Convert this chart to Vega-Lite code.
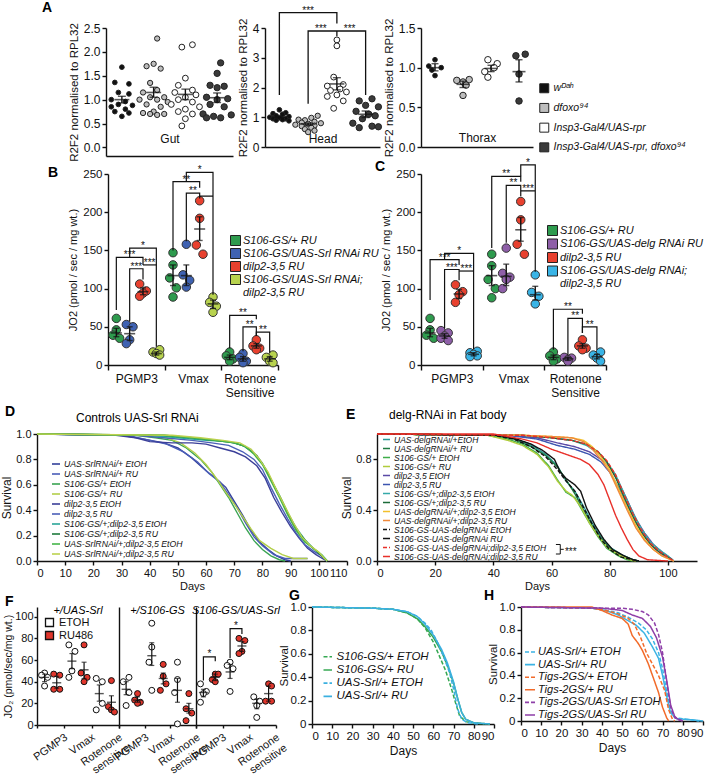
{
"$schema": "https://vega.github.io/schema/vega-lite/v6.json",
"background": "white",
"padding": {"left": 0, "top": 1, "right": 0, "bottom": 0},
"config": {
  "font": "Liberation Sans",
  "view": {"stroke": null},
  "axis": {"grid": false, "labelOverlap": false, "domainColor": "#111", "tickColor": "#111", "labelColor": "#111", "titleColor": "#111", "labelFontSize": 11, "titleFontSize": 11, "titleFontWeight": "normal", "domainWidth": 1.4, "tickWidth": 1.4, "tickSize": 4, "labelPadding": 2, "titlePadding": 4},
  "title": {"fontSize": 14, "fontWeight": "bold", "anchor": "start", "color": "#000", "frame": "group"},
  "legend": {"labelColor": "#111", "padding": 0, "labelLimit": 400}
},
"datasets": {
"A": [
{"t":"Gut","g":1,"s":4,"v":1.68},{"t":"Gut","g":1,"s":2,"v":1.36},{"t":"Gut","g":1,"s":6,"v":1.33},{"t":"Gut","g":1,"s":3,"v":1.15},{"t":"Gut","g":1,"s":6,"v":1.12},{"t":"Gut","g":1,"s":1,"v":1.0},{"t":"Gut","g":1,"s":5,"v":0.96},{"t":"Gut","g":1,"s":3,"v":0.9},{"t":"Gut","g":1,"s":7,"v":0.88},{"t":"Gut","g":1,"s":1,"v":0.85},{"t":"Gut","g":1,"s":5,"v":0.8},{"t":"Gut","g":1,"s":2,"v":0.75},{"t":"Gut","g":1,"s":6,"v":0.72},{"t":"Gut","g":1,"s":4,"v":0.65},
{"t":"Gut","g":2,"s":5,"v":2.28},{"t":"Gut","g":2,"s":4,"v":1.75},{"t":"Gut","g":2,"s":2,"v":1.7},{"t":"Gut","g":2,"s":6,"v":1.65},{"t":"Gut","g":2,"s":3,"v":1.35},{"t":"Gut","g":2,"s":5,"v":1.2},{"t":"Gut","g":2,"s":1,"v":1.15},{"t":"Gut","g":2,"s":3,"v":1.05},{"t":"Gut","g":2,"s":7,"v":1.05},{"t":"Gut","g":2,"s":0,"v":1.0},{"t":"Gut","g":2,"s":5,"v":1.0},{"t":"Gut","g":2,"s":8,"v":0.95},{"t":"Gut","g":2,"s":2,"v":0.9},{"t":"Gut","g":2,"s":6,"v":0.85},{"t":"Gut","g":2,"s":4,"v":0.75},{"t":"Gut","g":2,"s":1,"v":0.72},{"t":"Gut","g":2,"s":7,"v":0.7},{"t":"Gut","g":2,"s":3,"v":0.7},{"t":"Gut","g":2,"s":5,"v":0.68},
{"t":"Gut","g":3,"s":3,"v":2.1},{"t":"Gut","g":3,"s":6,"v":2.15},{"t":"Gut","g":3,"s":4,"v":1.45},{"t":"Gut","g":3,"s":2,"v":1.3},{"t":"Gut","g":3,"s":6,"v":1.2},{"t":"Gut","g":3,"s":1,"v":1.15},{"t":"Gut","g":3,"s":7,"v":1.1},{"t":"Gut","g":3,"s":4,"v":1.05},{"t":"Gut","g":3,"s":2,"v":1.0},{"t":"Gut","g":3,"s":6,"v":0.95},{"t":"Gut","g":3,"s":0,"v":0.9},{"t":"Gut","g":3,"s":8,"v":0.85},{"t":"Gut","g":3,"s":4,"v":0.8},{"t":"Gut","g":3,"s":2,"v":0.75},{"t":"Gut","g":3,"s":6,"v":0.7},{"t":"Gut","g":3,"s":4,"v":0.6},{"t":"Gut","g":3,"s":3,"v":0.45},
{"t":"Gut","g":4,"s":5,"v":1.77},{"t":"Gut","g":4,"s":4,"v":1.55},{"t":"Gut","g":4,"s":2,"v":1.3},{"t":"Gut","g":4,"s":6,"v":1.28},{"t":"Gut","g":4,"s":4,"v":1.25},{"t":"Gut","g":4,"s":1,"v":1.05},{"t":"Gut","g":4,"s":7,"v":1.02},{"t":"Gut","g":4,"s":4,"v":1.0},{"t":"Gut","g":4,"s":2,"v":0.9},{"t":"Gut","g":4,"s":6,"v":0.85},{"t":"Gut","g":4,"s":0,"v":0.7},{"t":"Gut","g":4,"s":8,"v":0.68},{"t":"Gut","g":4,"s":3,"v":0.65},{"t":"Gut","g":4,"s":5,"v":0.62},{"t":"Gut","g":4,"s":1,"v":0.62},
{"t":"Head","g":1,"s":4,"v":1.25},{"t":"Head","g":1,"s":6,"v":1.15},{"t":"Head","g":1,"s":2,"v":1.12},{"t":"Head","g":1,"s":5,"v":1.1},{"t":"Head","g":1,"s":3,"v":1.05},{"t":"Head","g":1,"s":7,"v":1.02},{"t":"Head","g":1,"s":1,"v":1.0},{"t":"Head","g":1,"s":4,"v":0.98},{"t":"Head","g":1,"s":6,"v":0.95},{"t":"Head","g":1,"s":2,"v":0.95},{"t":"Head","g":1,"s":5,"v":0.92},{"t":"Head","g":1,"s":3,"v":0.9},{"t":"Head","g":1,"s":7,"v":0.88},
{"t":"Head","g":2,"s":7,"v":1.05},{"t":"Head","g":2,"s":5,"v":0.98},{"t":"Head","g":2,"s":1,"v":0.92},{"t":"Head","g":2,"s":3,"v":0.9},{"t":"Head","g":2,"s":6,"v":0.85},{"t":"Head","g":2,"s":2,"v":0.82},{"t":"Head","g":2,"s":8,"v":0.8},{"t":"Head","g":2,"s":4,"v":0.78},{"t":"Head","g":2,"s":0,"v":0.75},{"t":"Head","g":2,"s":6,"v":0.72},{"t":"Head","g":2,"s":2,"v":0.7},{"t":"Head","g":2,"s":5,"v":0.65},{"t":"Head","g":2,"s":3,"v":0.6},{"t":"Head","g":2,"s":6,"v":0.55},{"t":"Head","g":2,"s":4,"v":0.5},
{"t":"Head","g":3,"s":4,"v":3.6},{"t":"Head","g":3,"s":4,"v":3.4},{"t":"Head","g":3,"s":3,"v":2.35},{"t":"Head","g":3,"s":6,"v":2.1},{"t":"Head","g":3,"s":1,"v":2.05},{"t":"Head","g":3,"s":5,"v":1.95},{"t":"Head","g":3,"s":2,"v":1.9},{"t":"Head","g":3,"s":7,"v":1.85},{"t":"Head","g":3,"s":4,"v":1.75},{"t":"Head","g":3,"s":1,"v":1.7},{"t":"Head","g":3,"s":6,"v":1.55},{"t":"Head","g":3,"s":3,"v":1.3},
{"t":"Head","g":4,"s":6,"v":1.62},{"t":"Head","g":4,"s":2,"v":1.55},{"t":"Head","g":4,"s":4,"v":1.4},{"t":"Head","g":4,"s":8,"v":1.35},{"t":"Head","g":4,"s":1,"v":1.2},{"t":"Head","g":4,"s":5,"v":1.1},{"t":"Head","g":4,"s":7,"v":1.05},{"t":"Head","g":4,"s":3,"v":0.95},{"t":"Head","g":4,"s":0,"v":0.8},{"t":"Head","g":4,"s":6,"v":0.7},{"t":"Head","g":4,"s":8,"v":0.68},{"t":"Head","g":4,"s":2,"v":0.65},
{"t":"Tho","g":1,"s":4,"v":1.1},{"t":"Tho","g":1,"s":2,"v":1.02},{"t":"Tho","g":1,"s":6,"v":1.0},{"t":"Tho","g":1,"s":3,"v":0.97},{"t":"Tho","g":1,"s":4,"v":0.9},
{"t":"Tho","g":2,"s":6,"v":0.85},{"t":"Tho","g":2,"s":2,"v":0.84},{"t":"Tho","g":2,"s":4,"v":0.82},{"t":"Tho","g":2,"s":5,"v":0.78},{"t":"Tho","g":2,"s":4,"v":0.65},
{"t":"Tho","g":3,"s":3,"v":1.1},{"t":"Tho","g":3,"s":6,"v":1.05},{"t":"Tho","g":3,"s":5,"v":1.0},{"t":"Tho","g":3,"s":2,"v":0.95},{"t":"Tho","g":3,"s":3,"v":0.88},
{"t":"Tho","g":4,"s":6,"v":1.17},{"t":"Tho","g":4,"s":3,"v":1.15},{"t":"Tho","g":4,"s":4,"v":0.92},{"t":"Tho","g":4,"s":4,"v":0.58}
],
"As": [
{"t":"Gut","g":1,"s":4,"m":1.0,"lo":0.93,"hi":1.07},{"t":"Gut","g":2,"s":4,"m":1.15,"lo":1.05,"hi":1.26},{"t":"Gut","g":3,"s":4,"m":1.11,"lo":1.0,"hi":1.22},{"t":"Gut","g":4,"s":4,"m":1.04,"lo":0.94,"hi":1.14},
{"t":"Head","g":1,"s":4,"m":1.0,"lo":0.97,"hi":1.03},{"t":"Head","g":2,"s":4,"m":0.77,"lo":0.73,"hi":0.81},{"t":"Head","g":3,"s":4,"m":2.12,"lo":1.92,"hi":2.33},{"t":"Head","g":4,"s":4,"m":1.1,"lo":0.99,"hi":1.21},
{"t":"Tho","g":1,"s":4,"m":1.0,"lo":0.96,"hi":1.05},{"t":"Tho","g":2,"s":4,"m":0.79,"lo":0.75,"hi":0.83},{"t":"Tho","g":3,"s":4,"m":0.99,"lo":0.95,"hi":1.03},{"t":"Tho","g":4,"s":4,"m":0.95,"lo":0.82,"hi":1.1}
],
"Ab": [
{"id":"h1","g":1,"s":4,"v":1.75,"k":0},{"id":"h1","g":1,"s":4,"v":4.52,"k":1},{"id":"h1","g":3,"s":4,"v":4.52,"k":2},{"id":"h1","g":3,"s":4,"v":4.15,"k":3},
{"id":"h2","g":2,"s":4,"v":1.45,"k":0},{"id":"h2","g":2,"s":4,"v":3.9,"k":1},{"id":"h2","g":4,"s":4,"v":3.9,"k":2},{"id":"h2","g":4,"s":4,"v":1.75,"k":3},
{"id":"h3","g":3,"s":4,"v":3.9,"k":0},{"id":"h3","g":3,"s":4,"v":3.72,"k":1}
],
"Al": [
{"g":2,"s":4,"v":4.52,"txt":"***"},{"g":2,"s":8,"v":3.9,"txt":"***"},{"g":3,"s":8,"v":3.9,"txt":"***"}
],
"Bd": [
{"p":"B","m":"PGMP3","g":1,"s":2,"v":61},{"p":"B","m":"PGMP3","g":1,"s":2,"v":46},{"p":"B","m":"PGMP3","g":1,"s":1,"v":39},{"p":"B","m":"PGMP3","g":1,"s":3,"v":35},
{"p":"B","m":"PGMP3","g":2,"s":5,"v":53},{"p":"B","m":"PGMP3","g":2,"s":7,"v":50},{"p":"B","m":"PGMP3","g":2,"s":6,"v":33},{"p":"B","m":"PGMP3","g":2,"s":5,"v":28},
{"p":"B","m":"PGMP3","g":3,"s":9,"v":106},{"p":"B","m":"PGMP3","g":3,"s":11,"v":97},{"p":"B","m":"PGMP3","g":3,"s":10,"v":94},{"p":"B","m":"PGMP3","g":3,"s":9,"v":90},
{"p":"B","m":"PGMP3","g":4,"s":15,"v":20},{"p":"B","m":"PGMP3","g":4,"s":13,"v":17},{"p":"B","m":"PGMP3","g":4,"s":14,"v":15},{"p":"B","m":"PGMP3","g":4,"s":15,"v":13},
{"p":"B","m":"Vmax","g":1,"s":2,"v":147},{"p":"B","m":"Vmax","g":1,"s":2,"v":131},{"p":"B","m":"Vmax","g":1,"s":1,"v":114},{"p":"B","m":"Vmax","g":1,"s":3,"v":101},{"p":"B","m":"Vmax","g":1,"s":2,"v":89},
{"p":"B","m":"Vmax","g":2,"s":6,"v":158},{"p":"B","m":"Vmax","g":2,"s":5,"v":118},{"p":"B","m":"Vmax","g":2,"s":7,"v":111},{"p":"B","m":"Vmax","g":2,"s":6,"v":102},
{"p":"B","m":"Vmax","g":3,"s":10,"v":215},{"p":"B","m":"Vmax","g":3,"s":10,"v":192},{"p":"B","m":"Vmax","g":3,"s":9,"v":157},{"p":"B","m":"Vmax","g":3,"s":11,"v":145},
{"p":"B","m":"Vmax","g":4,"s":14,"v":89},{"p":"B","m":"Vmax","g":4,"s":13,"v":82},{"p":"B","m":"Vmax","g":4,"s":15,"v":77},{"p":"B","m":"Vmax","g":4,"s":14,"v":69},
{"p":"B","m":"Rot","g":1,"s":2,"v":17},{"p":"B","m":"Rot","g":1,"s":1,"v":12},{"p":"B","m":"Rot","g":1,"s":3,"v":8},{"p":"B","m":"Rot","g":1,"s":2,"v":5},
{"p":"B","m":"Rot","g":2,"s":6,"v":15},{"p":"B","m":"Rot","g":2,"s":5,"v":10},{"p":"B","m":"Rot","g":2,"s":7,"v":5},{"p":"B","m":"Rot","g":2,"s":6,"v":3},
{"p":"B","m":"Rot","g":3,"s":10,"v":33},{"p":"B","m":"Rot","g":3,"s":9,"v":25},{"p":"B","m":"Rot","g":3,"s":11,"v":22},{"p":"B","m":"Rot","g":3,"s":10,"v":20},
{"p":"B","m":"Rot","g":4,"s":15,"v":13},{"p":"B","m":"Rot","g":4,"s":13,"v":10},{"p":"B","m":"Rot","g":4,"s":14,"v":5},{"p":"B","m":"Rot","g":4,"s":15,"v":3},
{"p":"C","m":"PGMP3","g":1,"s":2,"v":61},{"p":"C","m":"PGMP3","g":1,"s":2,"v":46},{"p":"C","m":"PGMP3","g":1,"s":1,"v":39},{"p":"C","m":"PGMP3","g":1,"s":3,"v":35},
{"p":"C","m":"PGMP3","g":2,"s":5,"v":45},{"p":"C","m":"PGMP3","g":2,"s":7,"v":42},{"p":"C","m":"PGMP3","g":2,"s":6,"v":38},{"p":"C","m":"PGMP3","g":2,"s":5,"v":35},{"p":"C","m":"PGMP3","g":2,"s":7,"v":32},
{"p":"C","m":"PGMP3","g":3,"s":9,"v":105},{"p":"C","m":"PGMP3","g":3,"s":11,"v":96},{"p":"C","m":"PGMP3","g":3,"s":10,"v":92},{"p":"C","m":"PGMP3","g":3,"s":9,"v":82},
{"p":"C","m":"PGMP3","g":4,"s":15,"v":18},{"p":"C","m":"PGMP3","g":4,"s":13,"v":16},{"p":"C","m":"PGMP3","g":4,"s":14,"v":14},{"p":"C","m":"PGMP3","g":4,"s":15,"v":12},{"p":"C","m":"PGMP3","g":4,"s":13,"v":11},
{"p":"C","m":"Vmax","g":1,"s":2,"v":145},{"p":"C","m":"Vmax","g":1,"s":2,"v":130},{"p":"C","m":"Vmax","g":1,"s":1,"v":112},{"p":"C","m":"Vmax","g":1,"s":3,"v":100},{"p":"C","m":"Vmax","g":1,"s":2,"v":88},
{"p":"C","m":"Vmax","g":2,"s":6,"v":153},{"p":"C","m":"Vmax","g":2,"s":5,"v":120},{"p":"C","m":"Vmax","g":2,"s":7,"v":115},{"p":"C","m":"Vmax","g":2,"s":6,"v":112},{"p":"C","m":"Vmax","g":2,"s":5,"v":100},
{"p":"C","m":"Vmax","g":3,"s":10,"v":214},{"p":"C","m":"Vmax","g":3,"s":10,"v":190},{"p":"C","m":"Vmax","g":3,"s":9,"v":158},{"p":"C","m":"Vmax","g":3,"s":11,"v":145},
{"p":"C","m":"Vmax","g":4,"s":14,"v":118},{"p":"C","m":"Vmax","g":4,"s":13,"v":95},{"p":"C","m":"Vmax","g":4,"s":15,"v":90},{"p":"C","m":"Vmax","g":4,"s":14,"v":80},
{"p":"C","m":"Rot","g":1,"s":2,"v":17},{"p":"C","m":"Rot","g":1,"s":1,"v":12},{"p":"C","m":"Rot","g":1,"s":3,"v":8},{"p":"C","m":"Rot","g":1,"s":2,"v":5},
{"p":"C","m":"Rot","g":2,"s":5,"v":10},{"p":"C","m":"Rot","g":2,"s":7,"v":9},{"p":"C","m":"Rot","g":2,"s":6,"v":7},{"p":"C","m":"Rot","g":2,"s":6,"v":5},
{"p":"C","m":"Rot","g":3,"s":10,"v":33},{"p":"C","m":"Rot","g":3,"s":9,"v":25},{"p":"C","m":"Rot","g":3,"s":11,"v":22},{"p":"C","m":"Rot","g":3,"s":10,"v":20},
{"p":"C","m":"Rot","g":4,"s":15,"v":17},{"p":"C","m":"Rot","g":4,"s":13,"v":13},{"p":"C","m":"Rot","g":4,"s":14,"v":9},{"p":"C","m":"Rot","g":4,"s":15,"v":5}
],
"Bs": [
{"p":"B","m":"PGMP3","g":1,"s":2,"mn":42,"lo":37,"hi":48},{"p":"B","m":"PGMP3","g":2,"s":6,"mn":41,"lo":32,"hi":50},{"p":"B","m":"PGMP3","g":3,"s":10,"mn":96,"lo":92,"hi":101},{"p":"B","m":"PGMP3","g":4,"s":14,"mn":15,"lo":13,"hi":17},
{"p":"B","m":"Vmax","g":1,"s":2,"mn":117,"lo":104,"hi":131},{"p":"B","m":"Vmax","g":2,"s":6,"mn":117,"lo":104,"hi":131},{"p":"B","m":"Vmax","g":3,"s":10,"mn":178,"lo":163,"hi":194},{"p":"B","m":"Vmax","g":4,"s":14,"mn":80,"lo":74,"hi":85},
{"p":"B","m":"Rot","g":1,"s":2,"mn":10,"lo":7,"hi":13},{"p":"B","m":"Rot","g":2,"s":6,"mn":8,"lo":5,"hi":11},{"p":"B","m":"Rot","g":3,"s":10,"mn":25,"lo":22,"hi":28},{"p":"B","m":"Rot","g":4,"s":14,"mn":8,"lo":5,"hi":11},
{"p":"C","m":"PGMP3","g":1,"s":2,"mn":42,"lo":37,"hi":48},{"p":"C","m":"PGMP3","g":2,"s":6,"mn":38,"lo":35,"hi":41},{"p":"C","m":"PGMP3","g":3,"s":10,"mn":93,"lo":87,"hi":99},{"p":"C","m":"PGMP3","g":4,"s":14,"mn":14,"lo":12,"hi":16},
{"p":"C","m":"Vmax","g":1,"s":2,"mn":117,"lo":104,"hi":130},{"p":"C","m":"Vmax","g":2,"s":6,"mn":116,"lo":104,"hi":132},{"p":"C","m":"Vmax","g":3,"s":10,"mn":177,"lo":162,"hi":193},{"p":"C","m":"Vmax","g":4,"s":14,"mn":92,"lo":85,"hi":103},
{"p":"C","m":"Rot","g":1,"s":2,"mn":10,"lo":7,"hi":13},{"p":"C","m":"Rot","g":2,"s":6,"mn":8,"lo":6,"hi":10},{"p":"C","m":"Rot","g":3,"s":10,"mn":25,"lo":22,"hi":28},{"p":"C","m":"Rot","g":4,"s":14,"mn":11,"lo":8,"hi":14}
],
"Bb": [
{"p":"B","id":"b1","m":"PGMP3","s":2,"v":72,"k":0},{"p":"B","id":"b1","m":"PGMP3","s":2,"v":141,"k":1},{"p":"B","id":"b1","m":"PGMP3","s":10,"v":141,"k":2},{"p":"B","id":"b1","m":"PGMP3","s":10,"v":131,"k":3},
{"p":"B","id":"b2","m":"PGMP3","s":6,"v":141,"k":0},{"p":"B","id":"b2","m":"PGMP3","s":6,"v":153,"k":1},{"p":"B","id":"b2","m":"PGMP3","s":14,"v":153,"k":2},{"p":"B","id":"b2","m":"PGMP3","s":14,"v":24,"k":3},
{"p":"B","id":"b3","m":"PGMP3","s":6,"v":57,"k":0},{"p":"B","id":"b3","m":"PGMP3","s":6,"v":126,"k":1},{"p":"B","id":"b3","m":"PGMP3","s":10,"v":126,"k":2},{"p":"B","id":"b3","m":"PGMP3","s":10,"v":112,"k":3},
{"p":"B","id":"b4","m":"PGMP3","s":10,"v":131,"k":0},{"p":"B","id":"b4","m":"PGMP3","s":14,"v":131,"k":1},
{"p":"B","id":"b5","m":"Vmax","s":2,"v":150,"k":0},{"p":"B","id":"b5","m":"Vmax","s":2,"v":240,"k":1},{"p":"B","id":"b5","m":"Vmax","s":10,"v":240,"k":2},{"p":"B","id":"b5","m":"Vmax","s":10,"v":232,"k":3},
{"p":"B","id":"b6","m":"Vmax","s":6,"v":162,"k":0},{"p":"B","id":"b6","m":"Vmax","s":6,"v":225,"k":1},{"p":"B","id":"b6","m":"Vmax","s":10,"v":225,"k":2},{"p":"B","id":"b6","m":"Vmax","s":10,"v":220,"k":3},
{"p":"B","id":"b7","m":"Vmax","s":6,"v":240,"k":0},{"p":"B","id":"b7","m":"Vmax","s":6,"v":252,"k":1},{"p":"B","id":"b7","m":"Vmax","s":14,"v":252,"k":2},{"p":"B","id":"b7","m":"Vmax","s":14,"v":92,"k":3},
{"p":"B","id":"b8","m":"Vmax","s":10,"v":218,"k":0},{"p":"B","id":"b8","m":"Vmax","s":10,"v":221,"k":1},{"p":"B","id":"b8","m":"Vmax","s":14,"v":221,"k":2},
{"p":"B","id":"b9","m":"Rot","s":2,"v":22,"k":0},{"p":"B","id":"b9","m":"Rot","s":2,"v":65,"k":1},{"p":"B","id":"b9","m":"Rot","s":10,"v":65,"k":2},{"p":"B","id":"b9","m":"Rot","s":10,"v":60,"k":3},
{"p":"B","id":"b10","m":"Rot","s":6,"v":18,"k":0},{"p":"B","id":"b10","m":"Rot","s":6,"v":50,"k":1},{"p":"B","id":"b10","m":"Rot","s":10,"v":50,"k":2},{"p":"B","id":"b10","m":"Rot","s":10,"v":38,"k":3},
{"p":"B","id":"b11","m":"Rot","s":10,"v":38,"k":0},{"p":"B","id":"b11","m":"Rot","s":10,"v":43,"k":1},{"p":"B","id":"b11","m":"Rot","s":14,"v":43,"k":2},{"p":"B","id":"b11","m":"Rot","s":14,"v":16,"k":3},
{"p":"C","id":"c1","m":"PGMP3","s":2,"v":85,"k":0},{"p":"C","id":"c1","m":"PGMP3","s":2,"v":138,"k":1},{"p":"C","id":"c1","m":"PGMP3","s":10,"v":138,"k":2},{"p":"C","id":"c1","m":"PGMP3","s":10,"v":131,"k":3},
{"p":"C","id":"c2","m":"PGMP3","s":6,"v":138,"k":0},{"p":"C","id":"c2","m":"PGMP3","s":6,"v":146,"k":1},{"p":"C","id":"c2","m":"PGMP3","s":14,"v":146,"k":2},{"p":"C","id":"c2","m":"PGMP3","s":14,"v":21,"k":3},
{"p":"C","id":"c3","m":"PGMP3","s":6,"v":48,"k":0},{"p":"C","id":"c3","m":"PGMP3","s":6,"v":125,"k":1},{"p":"C","id":"c3","m":"PGMP3","s":10,"v":125,"k":2},{"p":"C","id":"c3","m":"PGMP3","s":10,"v":111,"k":3},
{"p":"C","id":"c4","m":"PGMP3","s":10,"v":123,"k":0},{"p":"C","id":"c4","m":"PGMP3","s":14,"v":123,"k":1},
{"p":"C","id":"c5","m":"Vmax","s":2,"v":153,"k":0},{"p":"C","id":"c5","m":"Vmax","s":2,"v":247,"k":1},{"p":"C","id":"c5","m":"Vmax","s":10,"v":247,"k":2},{"p":"C","id":"c5","m":"Vmax","s":10,"v":240,"k":3},
{"p":"C","id":"c6","m":"Vmax","s":6,"v":160,"k":0},{"p":"C","id":"c6","m":"Vmax","s":6,"v":235,"k":1},{"p":"C","id":"c6","m":"Vmax","s":10,"v":235,"k":2},{"p":"C","id":"c6","m":"Vmax","s":10,"v":221,"k":3},
{"p":"C","id":"c7","m":"Vmax","s":10,"v":228,"k":0},{"p":"C","id":"c7","m":"Vmax","s":14,"v":228,"k":1},{"p":"C","id":"c7","m":"Vmax","s":14,"v":122,"k":2},
{"p":"C","id":"c8","m":"Vmax","s":10,"v":247,"k":0},{"p":"C","id":"c8","m":"Vmax","s":10,"v":262,"k":1},{"p":"C","id":"c8","m":"Vmax","s":14,"v":262,"k":2},{"p":"C","id":"c8","m":"Vmax","s":14,"v":228,"k":3},
{"p":"C","id":"c9","m":"Rot","s":2,"v":20,"k":0},{"p":"C","id":"c9","m":"Rot","s":2,"v":73,"k":1},{"p":"C","id":"c9","m":"Rot","s":10,"v":73,"k":2},{"p":"C","id":"c9","m":"Rot","s":10,"v":67,"k":3},
{"p":"C","id":"c10","m":"Rot","s":6,"v":13,"k":0},{"p":"C","id":"c10","m":"Rot","s":6,"v":61,"k":1},{"p":"C","id":"c10","m":"Rot","s":10,"v":61,"k":2},{"p":"C","id":"c10","m":"Rot","s":10,"v":42,"k":3},
{"p":"C","id":"c11","m":"Rot","s":10,"v":42,"k":0},{"p":"C","id":"c11","m":"Rot","s":10,"v":50,"k":1},{"p":"C","id":"c11","m":"Rot","s":14,"v":50,"k":2},{"p":"C","id":"c11","m":"Rot","s":14,"v":20,"k":3}
],
"Bl": [
{"p":"B","m":"PGMP3","s":6,"v":141,"txt":"***"},{"p":"B","m":"PGMP3","s":10,"v":153,"txt":"*"},{"p":"B","m":"PGMP3","s":8,"v":126,"txt":"***"},{"p":"B","m":"PGMP3","s":12,"v":131,"txt":"***"},
{"p":"B","m":"Vmax","s":6,"v":240,"txt":"**"},{"p":"B","m":"Vmax","s":8,"v":225,"txt":"**"},{"p":"B","m":"Vmax","s":10,"v":252,"txt":"*"},
{"p":"B","m":"Rot","s":6,"v":65,"txt":"**"},{"p":"B","m":"Rot","s":8,"v":50,"txt":"**"},{"p":"B","m":"Rot","s":12,"v":43,"txt":"**"},
{"p":"C","m":"PGMP3","s":6,"v":138,"txt":"***"},{"p":"C","m":"PGMP3","s":10,"v":146,"txt":"*"},{"p":"C","m":"PGMP3","s":8,"v":125,"txt":"***"},{"p":"C","m":"PGMP3","s":12,"v":123,"txt":"***"},
{"p":"C","m":"Vmax","s":6,"v":247,"txt":"**"},{"p":"C","m":"Vmax","s":8,"v":235,"txt":"**"},{"p":"C","m":"Vmax","s":12,"v":228,"txt":"***"},{"p":"C","m":"Vmax","s":12,"v":262,"txt":"*"},
{"p":"C","m":"Rot","s":6,"v":73,"txt":"**"},{"p":"C","m":"Rot","s":8,"v":61,"txt":"**"},{"p":"C","m":"Rot","s":12,"v":50,"txt":"**"}
],
"Fd": [
{"p":1,"m":"PGMP3","t":"ETOH","s":2,"v":48},{"p":1,"m":"PGMP3","t":"ETOH","s":1,"v":46},{"p":1,"m":"PGMP3","t":"ETOH","s":3,"v":44},{"p":1,"m":"PGMP3","t":"ETOH","s":2,"v":36},
{"p":1,"m":"PGMP3","t":"RU486","s":5,"v":47},{"p":1,"m":"PGMP3","t":"RU486","s":7,"v":46},{"p":1,"m":"PGMP3","t":"RU486","s":5,"v":33},{"p":1,"m":"PGMP3","t":"RU486","s":7,"v":33},
{"p":1,"m":"Vmax","t":"ETOH","s":1,"v":74},{"p":1,"m":"Vmax","t":"ETOH","s":3,"v":68},{"p":1,"m":"Vmax","t":"ETOH","s":2,"v":50},{"p":1,"m":"Vmax","t":"ETOH","s":1,"v":44},
{"p":1,"m":"Vmax","t":"RU486","s":6,"v":74},{"p":1,"m":"Vmax","t":"RU486","s":5,"v":48},{"p":1,"m":"Vmax","t":"RU486","s":7,"v":44},{"p":1,"m":"Vmax","t":"RU486","s":6,"v":40},
{"p":1,"m":"Rot","t":"ETOH","s":1,"v":43},{"p":1,"m":"Rot","t":"ETOH","s":3,"v":40},{"p":1,"m":"Rot","t":"ETOH","s":3,"v":20},{"p":1,"m":"Rot","t":"ETOH","s":1,"v":14},
{"p":1,"m":"Rot","t":"RU486","s":6,"v":41},{"p":1,"m":"Rot","t":"RU486","s":5,"v":17},{"p":1,"m":"Rot","t":"RU486","s":6,"v":14},{"p":1,"m":"Rot","t":"RU486","s":7,"v":12},
{"p":2,"m":"PGMP3","t":"ETOH","s":3,"v":44},{"p":2,"m":"PGMP3","t":"ETOH","s":1,"v":40},{"p":2,"m":"PGMP3","t":"ETOH","s":3,"v":30},{"p":2,"m":"PGMP3","t":"ETOH","s":2,"v":18},
{"p":2,"m":"PGMP3","t":"RU486","s":6,"v":29},{"p":2,"m":"PGMP3","t":"RU486","s":5,"v":23},{"p":2,"m":"PGMP3","t":"RU486","s":7,"v":21},{"p":2,"m":"PGMP3","t":"RU486","s":6,"v":20},
{"p":2,"m":"Vmax","t":"ETOH","s":2,"v":94},{"p":2,"m":"Vmax","t":"ETOH","s":2,"v":72},{"p":2,"m":"Vmax","t":"ETOH","s":1,"v":58},{"p":2,"m":"Vmax","t":"ETOH","s":2,"v":32},
{"p":2,"m":"Vmax","t":"RU486","s":6,"v":56},{"p":2,"m":"Vmax","t":"RU486","s":6,"v":45},{"p":2,"m":"Vmax","t":"RU486","s":7,"v":38},{"p":2,"m":"Vmax","t":"RU486","s":5,"v":32},
{"p":2,"m":"Rot","t":"ETOH","s":2,"v":58},{"p":2,"m":"Rot","t":"ETOH","s":2,"v":42},{"p":2,"m":"Rot","t":"ETOH","s":1,"v":30},{"p":2,"m":"Rot","t":"ETOH","s":2,"v":1},
{"p":2,"m":"Rot","t":"RU486","s":6,"v":29},{"p":2,"m":"Rot","t":"RU486","s":5,"v":15},{"p":2,"m":"Rot","t":"RU486","s":7,"v":11},{"p":2,"m":"Rot","t":"RU486","s":5,"v":4},
{"p":3,"m":"PGMP3","t":"ETOH","s":1,"v":38},{"p":3,"m":"PGMP3","t":"ETOH","s":3,"v":31},{"p":3,"m":"PGMP3","t":"ETOH","s":2,"v":29},{"p":3,"m":"PGMP3","t":"ETOH","s":1,"v":21},
{"p":3,"m":"PGMP3","t":"RU486","s":6,"v":47},{"p":3,"m":"PGMP3","t":"RU486","s":7,"v":47},{"p":3,"m":"PGMP3","t":"RU486","s":5,"v":42},{"p":3,"m":"PGMP3","t":"RU486","s":6,"v":40},
{"p":3,"m":"Vmax","t":"ETOH","s":2,"v":58},{"p":3,"m":"Vmax","t":"ETOH","s":1,"v":55},{"p":3,"m":"Vmax","t":"ETOH","s":3,"v":52},{"p":3,"m":"Vmax","t":"ETOH","s":2,"v":31},
{"p":3,"m":"Vmax","t":"RU486","s":5,"v":80},{"p":3,"m":"Vmax","t":"RU486","s":7,"v":78},{"p":3,"m":"Vmax","t":"RU486","s":6,"v":68},{"p":3,"m":"Vmax","t":"RU486","s":5,"v":66},
{"p":3,"m":"Rot","t":"ETOH","s":1,"v":26},{"p":3,"m":"Rot","t":"ETOH","s":3,"v":22},{"p":3,"m":"Rot","t":"ETOH","s":2,"v":18},{"p":3,"m":"Rot","t":"ETOH","s":2,"v":7},
{"p":3,"m":"Rot","t":"RU486","s":6,"v":38},{"p":3,"m":"Rot","t":"RU486","s":7,"v":36},{"p":3,"m":"Rot","t":"RU486","s":5,"v":22},{"p":3,"m":"Rot","t":"RU486","s":7,"v":22}
],
"Fs": [
{"p":1,"m":"PGMP3","t":"ETOH","s":2,"mn":44,"lo":40,"hi":47},{"p":1,"m":"PGMP3","t":"RU486","s":6,"mn":39,"lo":34,"hi":45},{"p":1,"m":"Vmax","t":"ETOH","s":2,"mn":59,"lo":52,"hi":66},{"p":1,"m":"Vmax","t":"RU486","s":6,"mn":51,"lo":43,"hi":58},{"p":1,"m":"Rot","t":"ETOH","s":2,"mn":29,"lo":22,"hi":37},{"p":1,"m":"Rot","t":"RU486","s":6,"mn":21,"lo":14,"hi":27},
{"p":2,"m":"PGMP3","t":"ETOH","s":2,"mn":33,"lo":28,"hi":40},{"p":2,"m":"PGMP3","t":"RU486","s":6,"mn":23,"lo":21,"hi":26},{"p":2,"m":"Vmax","t":"ETOH","s":2,"mn":64,"lo":55,"hi":76},{"p":2,"m":"Vmax","t":"RU486","s":6,"mn":43,"lo":38,"hi":48},{"p":2,"m":"Rot","t":"ETOH","s":2,"mn":32,"lo":21,"hi":43},{"p":2,"m":"Rot","t":"RU486","s":6,"mn":15,"lo":11,"hi":20},
{"p":3,"m":"PGMP3","t":"ETOH","s":2,"mn":30,"lo":26,"hi":33},{"p":3,"m":"PGMP3","t":"RU486","s":6,"mn":44,"lo":41,"hi":47},{"p":3,"m":"Vmax","t":"ETOH","s":2,"mn":49,"lo":43,"hi":56},{"p":3,"m":"Vmax","t":"RU486","s":6,"mn":73,"lo":68,"hi":77},{"p":3,"m":"Rot","t":"ETOH","s":2,"mn":20,"lo":15,"hi":24},{"p":3,"m":"Rot","t":"RU486","s":6,"mn":29,"lo":22,"hi":36}
],
"Fb": [
{"id":"f1","m":"PGMP3","s":2,"v":41,"k":0},{"id":"f1","m":"PGMP3","s":2,"v":63,"k":1},{"id":"f1","m":"PGMP3","s":6,"v":63,"k":2},{"id":"f1","m":"PGMP3","s":6,"v":59,"k":3},
{"id":"f2","m":"Vmax","s":2,"v":62,"k":0},{"id":"f2","m":"Vmax","s":2,"v":89,"k":1},{"id":"f2","m":"Vmax","s":6,"v":89,"k":2},{"id":"f2","m":"Vmax","s":6,"v":84,"k":3}
],
"Fl": [
{"m":"PGMP3","s":4,"v":63,"txt":"*"},{"m":"Vmax","s":4,"v":89,"txt":"*"}
],
"Ea": [
{"id":"e1","d":61.5,"v":0.13,"k":0},{"id":"e1","d":63,"v":0.13,"k":1},{"id":"e1","d":63,"v":0.055,"k":2},{"id":"e1","d":61.5,"v":0.055,"k":3},
{"id":"e2","d":63,"v":0.092,"k":0},{"id":"e2","d":64.2,"v":0.092,"k":1}
],
"Et": [{"d":64.6,"v":0.092,"txt":"***"}],
"S": [
{"pn":"D","sr":1,"d":0,"v":1},{"pn":"D","sr":1,"d":30,"v":0.99},{"pn":"D","sr":1,"d":38,"v":0.96},{"pn":"D","sr":1,"d":45,"v":0.93},{"pn":"D","sr":1,"d":50,"v":0.89},{"pn":"D","sr":1,"d":55,"v":0.81},{"pn":"D","sr":1,"d":60,"v":0.71},{"pn":"D","sr":1,"d":64,"v":0.64},{"pn":"D","sr":1,"d":67,"v":0.58},{"pn":"D","sr":1,"d":70,"v":0.47},{"pn":"D","sr":1,"d":73,"v":0.36},{"pn":"D","sr":1,"d":76,"v":0.24},{"pn":"D","sr":1,"d":79,"v":0.15},{"pn":"D","sr":1,"d":82,"v":0.09},{"pn":"D","sr":1,"d":85,"v":0.04},{"pn":"D","sr":1,"d":88,"v":0.01},{"pn":"D","sr":1,"d":90,"v":0},
{"pn":"D","sr":2,"d":0,"v":1},{"pn":"D","sr":2,"d":32,"v":0.99},{"pn":"D","sr":2,"d":40,"v":0.95},{"pn":"D","sr":2,"d":46,"v":0.92},{"pn":"D","sr":2,"d":52,"v":0.86},{"pn":"D","sr":2,"d":57,"v":0.78},{"pn":"D","sr":2,"d":61,"v":0.69},{"pn":"D","sr":2,"d":65,"v":0.62},{"pn":"D","sr":2,"d":68,"v":0.52},{"pn":"D","sr":2,"d":71,"v":0.42},{"pn":"D","sr":2,"d":74,"v":0.3},{"pn":"D","sr":2,"d":77,"v":0.19},{"pn":"D","sr":2,"d":80,"v":0.12},{"pn":"D","sr":2,"d":84,"v":0.05},{"pn":"D","sr":2,"d":88,"v":0.02},{"pn":"D","sr":2,"d":96,"v":0.02},
{"pn":"D","sr":3,"d":0,"v":1},{"pn":"D","sr":3,"d":35,"v":0.99},{"pn":"D","sr":3,"d":42,"v":0.97},{"pn":"D","sr":3,"d":48,"v":0.95},{"pn":"D","sr":3,"d":53,"v":0.89},{"pn":"D","sr":3,"d":58,"v":0.8},{"pn":"D","sr":3,"d":62,"v":0.7},{"pn":"D","sr":3,"d":65,"v":0.6},{"pn":"D","sr":3,"d":68,"v":0.5},{"pn":"D","sr":3,"d":71,"v":0.38},{"pn":"D","sr":3,"d":74,"v":0.26},{"pn":"D","sr":3,"d":77,"v":0.16},{"pn":"D","sr":3,"d":80,"v":0.09},{"pn":"D","sr":3,"d":83,"v":0.04},{"pn":"D","sr":3,"d":86,"v":0.01},{"pn":"D","sr":3,"d":88,"v":0},
{"pn":"D","sr":4,"d":0,"v":1},{"pn":"D","sr":4,"d":40,"v":0.99},{"pn":"D","sr":4,"d":46,"v":0.97},{"pn":"D","sr":4,"d":51,"v":0.93},{"pn":"D","sr":4,"d":56,"v":0.85},{"pn":"D","sr":4,"d":60,"v":0.76},{"pn":"D","sr":4,"d":64,"v":0.64},{"pn":"D","sr":4,"d":67,"v":0.54},{"pn":"D","sr":4,"d":70,"v":0.45},{"pn":"D","sr":4,"d":73,"v":0.35},{"pn":"D","sr":4,"d":76,"v":0.25},{"pn":"D","sr":4,"d":79,"v":0.16},{"pn":"D","sr":4,"d":83,"v":0.1},{"pn":"D","sr":4,"d":87,"v":0.05},{"pn":"D","sr":4,"d":91,"v":0.02},{"pn":"D","sr":4,"d":96,"v":0.02},
{"pn":"D","sr":5,"d":0,"v":1},{"pn":"D","sr":5,"d":28,"v":0.99},{"pn":"D","sr":5,"d":35,"v":0.97},{"pn":"D","sr":5,"d":40,"v":0.94},{"pn":"D","sr":5,"d":48,"v":0.93},{"pn":"D","sr":5,"d":55,"v":0.93},{"pn":"D","sr":5,"d":60,"v":0.92},{"pn":"D","sr":5,"d":65,"v":0.89},{"pn":"D","sr":5,"d":70,"v":0.86},{"pn":"D","sr":5,"d":74,"v":0.82},{"pn":"D","sr":5,"d":78,"v":0.75},{"pn":"D","sr":5,"d":81,"v":0.65},{"pn":"D","sr":5,"d":84,"v":0.5},{"pn":"D","sr":5,"d":87,"v":0.38},{"pn":"D","sr":5,"d":90,"v":0.27},{"pn":"D","sr":5,"d":93,"v":0.18},{"pn":"D","sr":5,"d":96,"v":0.1},{"pn":"D","sr":5,"d":99,"v":0.05},{"pn":"D","sr":5,"d":102,"v":0.01},{"pn":"D","sr":5,"d":103,"v":0},
{"pn":"D","sr":6,"d":0,"v":1},{"pn":"D","sr":6,"d":35,"v":0.99},{"pn":"D","sr":6,"d":45,"v":0.97},{"pn":"D","sr":6,"d":55,"v":0.95},{"pn":"D","sr":6,"d":62,"v":0.93},{"pn":"D","sr":6,"d":68,"v":0.91},{"pn":"D","sr":6,"d":73,"v":0.86},{"pn":"D","sr":6,"d":77,"v":0.8},{"pn":"D","sr":6,"d":80,"v":0.72},{"pn":"D","sr":6,"d":83,"v":0.58},{"pn":"D","sr":6,"d":86,"v":0.45},{"pn":"D","sr":6,"d":89,"v":0.33},{"pn":"D","sr":6,"d":92,"v":0.22},{"pn":"D","sr":6,"d":95,"v":0.13},{"pn":"D","sr":6,"d":98,"v":0.08},{"pn":"D","sr":6,"d":101,"v":0.04},{"pn":"D","sr":6,"d":103,"v":0},
{"pn":"D","sr":7,"d":0,"v":1},{"pn":"D","sr":7,"d":40,"v":0.99},{"pn":"D","sr":7,"d":50,"v":0.97},{"pn":"D","sr":7,"d":60,"v":0.95},{"pn":"D","sr":7,"d":68,"v":0.94},{"pn":"D","sr":7,"d":73,"v":0.91},{"pn":"D","sr":7,"d":77,"v":0.85},{"pn":"D","sr":7,"d":80,"v":0.77},{"pn":"D","sr":7,"d":83,"v":0.64},{"pn":"D","sr":7,"d":86,"v":0.52},{"pn":"D","sr":7,"d":89,"v":0.38},{"pn":"D","sr":7,"d":92,"v":0.26},{"pn":"D","sr":7,"d":95,"v":0.17},{"pn":"D","sr":7,"d":98,"v":0.1},{"pn":"D","sr":7,"d":101,"v":0.05},{"pn":"D","sr":7,"d":103,"v":0},
{"pn":"D","sr":8,"d":0,"v":1},{"pn":"D","sr":8,"d":45,"v":0.99},{"pn":"D","sr":8,"d":55,"v":0.97},{"pn":"D","sr":8,"d":63,"v":0.95},{"pn":"D","sr":8,"d":70,"v":0.93},{"pn":"D","sr":8,"d":74,"v":0.9},{"pn":"D","sr":8,"d":78,"v":0.83},{"pn":"D","sr":8,"d":81,"v":0.73},{"pn":"D","sr":8,"d":84,"v":0.6},{"pn":"D","sr":8,"d":87,"v":0.47},{"pn":"D","sr":8,"d":90,"v":0.33},{"pn":"D","sr":8,"d":93,"v":0.22},{"pn":"D","sr":8,"d":96,"v":0.14},{"pn":"D","sr":8,"d":99,"v":0.08},{"pn":"D","sr":8,"d":102,"v":0.02},{"pn":"D","sr":8,"d":103,"v":0},
{"pn":"D","sr":9,"d":0,"v":1},{"pn":"D","sr":9,"d":45,"v":0.99},{"pn":"D","sr":9,"d":55,"v":0.97},{"pn":"D","sr":9,"d":63,"v":0.95},{"pn":"D","sr":9,"d":70,"v":0.93},{"pn":"D","sr":9,"d":74,"v":0.9},{"pn":"D","sr":9,"d":77,"v":0.84},{"pn":"D","sr":9,"d":80,"v":0.76},{"pn":"D","sr":9,"d":83,"v":0.63},{"pn":"D","sr":9,"d":86,"v":0.5},{"pn":"D","sr":9,"d":89,"v":0.36},{"pn":"D","sr":9,"d":92,"v":0.24},{"pn":"D","sr":9,"d":95,"v":0.15},{"pn":"D","sr":9,"d":98,"v":0.1},{"pn":"D","sr":9,"d":101,"v":0.05},{"pn":"D","sr":9,"d":103,"v":0},
{"pn":"D","sr":10,"d":0,"v":1},{"pn":"D","sr":10,"d":48,"v":0.99},{"pn":"D","sr":10,"d":58,"v":0.97},{"pn":"D","sr":10,"d":66,"v":0.95},{"pn":"D","sr":10,"d":72,"v":0.93},{"pn":"D","sr":10,"d":76,"v":0.88},{"pn":"D","sr":10,"d":79,"v":0.8},{"pn":"D","sr":10,"d":82,"v":0.7},{"pn":"D","sr":10,"d":85,"v":0.56},{"pn":"D","sr":10,"d":88,"v":0.43},{"pn":"D","sr":10,"d":91,"v":0.3},{"pn":"D","sr":10,"d":94,"v":0.19},{"pn":"D","sr":10,"d":97,"v":0.12},{"pn":"D","sr":10,"d":100,"v":0.07},{"pn":"D","sr":10,"d":102,"v":0.02},{"pn":"D","sr":10,"d":103,"v":0},
{"pn":"E","sr":1,"d":0,"v":1},{"pn":"E","sr":1,"d":40,"v":0.99},{"pn":"E","sr":1,"d":48,"v":0.96},{"pn":"E","sr":1,"d":54,"v":0.9},{"pn":"E","sr":1,"d":58,"v":0.84},{"pn":"E","sr":1,"d":62,"v":0.75},{"pn":"E","sr":1,"d":65,"v":0.63},{"pn":"E","sr":1,"d":68,"v":0.55},{"pn":"E","sr":1,"d":71,"v":0.43},{"pn":"E","sr":1,"d":74,"v":0.3},{"pn":"E","sr":1,"d":77,"v":0.19},{"pn":"E","sr":1,"d":80,"v":0.11},{"pn":"E","sr":1,"d":84,"v":0.05},{"pn":"E","sr":1,"d":88,"v":0.01},{"pn":"E","sr":1,"d":90,"v":0},
{"pn":"E","sr":2,"d":0,"v":1},{"pn":"E","sr":2,"d":40,"v":0.99},{"pn":"E","sr":2,"d":47,"v":0.96},{"pn":"E","sr":2,"d":53,"v":0.9},{"pn":"E","sr":2,"d":58,"v":0.83},{"pn":"E","sr":2,"d":62,"v":0.74},{"pn":"E","sr":2,"d":65,"v":0.64},{"pn":"E","sr":2,"d":68,"v":0.53},{"pn":"E","sr":2,"d":71,"v":0.4},{"pn":"E","sr":2,"d":74,"v":0.28},{"pn":"E","sr":2,"d":77,"v":0.18},{"pn":"E","sr":2,"d":80,"v":0.1},{"pn":"E","sr":2,"d":84,"v":0.04},{"pn":"E","sr":2,"d":88,"v":0.01},{"pn":"E","sr":2,"d":90,"v":0},
{"pn":"E","sr":3,"d":0,"v":1},{"pn":"E","sr":3,"d":38,"v":0.99},{"pn":"E","sr":3,"d":45,"v":0.96},{"pn":"E","sr":3,"d":50,"v":0.92},{"pn":"E","sr":3,"d":55,"v":0.85},{"pn":"E","sr":3,"d":59,"v":0.75},{"pn":"E","sr":3,"d":62,"v":0.64},{"pn":"E","sr":3,"d":65,"v":0.54},{"pn":"E","sr":3,"d":68,"v":0.5},{"pn":"E","sr":3,"d":70,"v":0.42},{"pn":"E","sr":3,"d":73,"v":0.3},{"pn":"E","sr":3,"d":76,"v":0.19},{"pn":"E","sr":3,"d":79,"v":0.1},{"pn":"E","sr":3,"d":83,"v":0.04},{"pn":"E","sr":3,"d":86,"v":0.01},{"pn":"E","sr":3,"d":88,"v":0},
{"pn":"E","sr":4,"d":0,"v":1},{"pn":"E","sr":4,"d":38,"v":0.99},{"pn":"E","sr":4,"d":45,"v":0.95},{"pn":"E","sr":4,"d":50,"v":0.91},{"pn":"E","sr":4,"d":55,"v":0.84},{"pn":"E","sr":4,"d":59,"v":0.74},{"pn":"E","sr":4,"d":62,"v":0.63},{"pn":"E","sr":4,"d":65,"v":0.55},{"pn":"E","sr":4,"d":67,"v":0.52},{"pn":"E","sr":4,"d":70,"v":0.43},{"pn":"E","sr":4,"d":73,"v":0.3},{"pn":"E","sr":4,"d":76,"v":0.2},{"pn":"E","sr":4,"d":79,"v":0.11},{"pn":"E","sr":4,"d":83,"v":0.05},{"pn":"E","sr":4,"d":87,"v":0.01},{"pn":"E","sr":4,"d":89,"v":0},
{"pn":"E","sr":5,"d":0,"v":1},{"pn":"E","sr":5,"d":45,"v":0.99},{"pn":"E","sr":5,"d":55,"v":0.97},{"pn":"E","sr":5,"d":62,"v":0.93},{"pn":"E","sr":5,"d":68,"v":0.9},{"pn":"E","sr":5,"d":73,"v":0.86},{"pn":"E","sr":5,"d":77,"v":0.8},{"pn":"E","sr":5,"d":80,"v":0.74},{"pn":"E","sr":5,"d":83,"v":0.62},{"pn":"E","sr":5,"d":86,"v":0.48},{"pn":"E","sr":5,"d":89,"v":0.33},{"pn":"E","sr":5,"d":92,"v":0.22},{"pn":"E","sr":5,"d":95,"v":0.13},{"pn":"E","sr":5,"d":98,"v":0.07},{"pn":"E","sr":5,"d":101,"v":0.02},{"pn":"E","sr":5,"d":102,"v":0},
{"pn":"E","sr":6,"d":0,"v":1},{"pn":"E","sr":6,"d":45,"v":0.99},{"pn":"E","sr":6,"d":55,"v":0.96},{"pn":"E","sr":6,"d":62,"v":0.91},{"pn":"E","sr":6,"d":68,"v":0.88},{"pn":"E","sr":6,"d":73,"v":0.84},{"pn":"E","sr":6,"d":77,"v":0.78},{"pn":"E","sr":6,"d":80,"v":0.7},{"pn":"E","sr":6,"d":83,"v":0.58},{"pn":"E","sr":6,"d":86,"v":0.44},{"pn":"E","sr":6,"d":89,"v":0.3},{"pn":"E","sr":6,"d":92,"v":0.2},{"pn":"E","sr":6,"d":95,"v":0.11},{"pn":"E","sr":6,"d":98,"v":0.05},{"pn":"E","sr":6,"d":101,"v":0.02},{"pn":"E","sr":6,"d":102,"v":0},
{"pn":"E","sr":7,"d":0,"v":1},{"pn":"E","sr":7,"d":50,"v":0.99},{"pn":"E","sr":7,"d":60,"v":0.97},{"pn":"E","sr":7,"d":67,"v":0.95},{"pn":"E","sr":7,"d":72,"v":0.91},{"pn":"E","sr":7,"d":76,"v":0.85},{"pn":"E","sr":7,"d":79,"v":0.78},{"pn":"E","sr":7,"d":82,"v":0.68},{"pn":"E","sr":7,"d":85,"v":0.53},{"pn":"E","sr":7,"d":88,"v":0.38},{"pn":"E","sr":7,"d":91,"v":0.25},{"pn":"E","sr":7,"d":94,"v":0.15},{"pn":"E","sr":7,"d":97,"v":0.09},{"pn":"E","sr":7,"d":100,"v":0.04},{"pn":"E","sr":7,"d":102,"v":0},
{"pn":"E","sr":8,"d":0,"v":1},{"pn":"E","sr":8,"d":50,"v":0.99},{"pn":"E","sr":8,"d":60,"v":0.97},{"pn":"E","sr":8,"d":67,"v":0.95},{"pn":"E","sr":8,"d":72,"v":0.92},{"pn":"E","sr":8,"d":76,"v":0.86},{"pn":"E","sr":8,"d":79,"v":0.78},{"pn":"E","sr":8,"d":82,"v":0.66},{"pn":"E","sr":8,"d":85,"v":0.5},{"pn":"E","sr":8,"d":88,"v":0.35},{"pn":"E","sr":8,"d":91,"v":0.22},{"pn":"E","sr":8,"d":94,"v":0.13},{"pn":"E","sr":8,"d":97,"v":0.07},{"pn":"E","sr":8,"d":100,"v":0.03},{"pn":"E","sr":8,"d":102,"v":0},
{"pn":"E","sr":9,"d":0,"v":1},{"pn":"E","sr":9,"d":50,"v":0.99},{"pn":"E","sr":9,"d":60,"v":0.98},{"pn":"E","sr":9,"d":67,"v":0.97},{"pn":"E","sr":9,"d":71,"v":0.95},{"pn":"E","sr":9,"d":74,"v":0.9},{"pn":"E","sr":9,"d":77,"v":0.82},{"pn":"E","sr":9,"d":80,"v":0.72},{"pn":"E","sr":9,"d":83,"v":0.57},{"pn":"E","sr":9,"d":86,"v":0.42},{"pn":"E","sr":9,"d":89,"v":0.28},{"pn":"E","sr":9,"d":92,"v":0.17},{"pn":"E","sr":9,"d":95,"v":0.09},{"pn":"E","sr":9,"d":98,"v":0.04},{"pn":"E","sr":9,"d":101,"v":0.01},{"pn":"E","sr":9,"d":102,"v":0},
{"pn":"E","sr":10,"d":0,"v":1},{"pn":"E","sr":10,"d":50,"v":0.99},{"pn":"E","sr":10,"d":60,"v":0.98},{"pn":"E","sr":10,"d":67,"v":0.97},{"pn":"E","sr":10,"d":71,"v":0.94},{"pn":"E","sr":10,"d":74,"v":0.88},{"pn":"E","sr":10,"d":77,"v":0.8},{"pn":"E","sr":10,"d":80,"v":0.7},{"pn":"E","sr":10,"d":83,"v":0.55},{"pn":"E","sr":10,"d":86,"v":0.4},{"pn":"E","sr":10,"d":89,"v":0.26},{"pn":"E","sr":10,"d":92,"v":0.16},{"pn":"E","sr":10,"d":95,"v":0.09},{"pn":"E","sr":10,"d":98,"v":0.04},{"pn":"E","sr":10,"d":101,"v":0.01},{"pn":"E","sr":10,"d":102,"v":0},
{"pn":"E","sr":11,"d":0,"v":1},{"pn":"E","sr":11,"d":40,"v":0.99},{"pn":"E","sr":11,"d":47,"v":0.96},{"pn":"E","sr":11,"d":53,"v":0.9},{"pn":"E","sr":11,"d":58,"v":0.82},{"pn":"E","sr":11,"d":62,"v":0.72},{"pn":"E","sr":11,"d":65,"v":0.63},{"pn":"E","sr":11,"d":68,"v":0.55},{"pn":"E","sr":11,"d":71,"v":0.42},{"pn":"E","sr":11,"d":74,"v":0.29},{"pn":"E","sr":11,"d":77,"v":0.17},{"pn":"E","sr":11,"d":80,"v":0.09},{"pn":"E","sr":11,"d":84,"v":0.03},{"pn":"E","sr":11,"d":88,"v":0.01},{"pn":"E","sr":11,"d":90,"v":0},
{"pn":"E","sr":12,"d":0,"v":1},{"pn":"E","sr":12,"d":42,"v":0.99},{"pn":"E","sr":12,"d":48,"v":0.96},{"pn":"E","sr":12,"d":53,"v":0.92},{"pn":"E","sr":12,"d":57,"v":0.87},{"pn":"E","sr":12,"d":61,"v":0.8},{"pn":"E","sr":12,"d":63,"v":0.7},{"pn":"E","sr":12,"d":65,"v":0.65},{"pn":"E","sr":12,"d":68,"v":0.6},{"pn":"E","sr":12,"d":70,"v":0.55},{"pn":"E","sr":12,"d":72,"v":0.42},{"pn":"E","sr":12,"d":75,"v":0.28},{"pn":"E","sr":12,"d":78,"v":0.17},{"pn":"E","sr":12,"d":81,"v":0.09},{"pn":"E","sr":12,"d":85,"v":0.04},{"pn":"E","sr":12,"d":88,"v":0.01},{"pn":"E","sr":12,"d":90,"v":0},
{"pn":"E","sr":13,"d":0,"v":1},{"pn":"E","sr":13,"d":50,"v":0.99},{"pn":"E","sr":13,"d":60,"v":0.97},{"pn":"E","sr":13,"d":67,"v":0.95},{"pn":"E","sr":13,"d":72,"v":0.92},{"pn":"E","sr":13,"d":76,"v":0.86},{"pn":"E","sr":13,"d":79,"v":0.79},{"pn":"E","sr":13,"d":82,"v":0.68},{"pn":"E","sr":13,"d":85,"v":0.52},{"pn":"E","sr":13,"d":88,"v":0.37},{"pn":"E","sr":13,"d":91,"v":0.24},{"pn":"E","sr":13,"d":94,"v":0.14},{"pn":"E","sr":13,"d":97,"v":0.08},{"pn":"E","sr":13,"d":100,"v":0.03},{"pn":"E","sr":13,"d":102,"v":0},
{"pn":"E","sr":14,"d":0,"v":1},{"pn":"E","sr":14,"d":40,"v":1},{"pn":"E","sr":14,"d":45,"v":0.98},{"pn":"E","sr":14,"d":50,"v":0.96},{"pn":"E","sr":14,"d":55,"v":0.93},{"pn":"E","sr":14,"d":60,"v":0.88},{"pn":"E","sr":14,"d":65,"v":0.84},{"pn":"E","sr":14,"d":70,"v":0.8},{"pn":"E","sr":14,"d":73,"v":0.76},{"pn":"E","sr":14,"d":76,"v":0.68},{"pn":"E","sr":14,"d":78,"v":0.6},{"pn":"E","sr":14,"d":80,"v":0.48},{"pn":"E","sr":14,"d":82,"v":0.36},{"pn":"E","sr":14,"d":84,"v":0.26},{"pn":"E","sr":14,"d":86,"v":0.17},{"pn":"E","sr":14,"d":88,"v":0.09},{"pn":"E","sr":14,"d":90,"v":0.04},{"pn":"E","sr":14,"d":93,"v":0.01},{"pn":"E","sr":14,"d":100,"v":0},
{"pn":"G","sr":1,"d":0,"v":1},{"pn":"G","sr":1,"d":30,"v":0.99},{"pn":"G","sr":1,"d":40,"v":0.98},{"pn":"G","sr":1,"d":47,"v":0.95},{"pn":"G","sr":1,"d":52,"v":0.9},{"pn":"G","sr":1,"d":56,"v":0.82},{"pn":"G","sr":1,"d":60,"v":0.7},{"pn":"G","sr":1,"d":63,"v":0.58},{"pn":"G","sr":1,"d":66,"v":0.46},{"pn":"G","sr":1,"d":69,"v":0.3},{"pn":"G","sr":1,"d":71,"v":0.18},{"pn":"G","sr":1,"d":73,"v":0.07},{"pn":"G","sr":1,"d":76,"v":0.02},{"pn":"G","sr":1,"d":80,"v":0.01},{"pn":"G","sr":1,"d":85,"v":0},
{"pn":"G","sr":2,"d":0,"v":1},{"pn":"G","sr":2,"d":30,"v":0.99},{"pn":"G","sr":2,"d":40,"v":0.98},{"pn":"G","sr":2,"d":47,"v":0.95},{"pn":"G","sr":2,"d":52,"v":0.9},{"pn":"G","sr":2,"d":56,"v":0.83},{"pn":"G","sr":2,"d":60,"v":0.74},{"pn":"G","sr":2,"d":64,"v":0.62},{"pn":"G","sr":2,"d":67,"v":0.5},{"pn":"G","sr":2,"d":70,"v":0.35},{"pn":"G","sr":2,"d":72,"v":0.22},{"pn":"G","sr":2,"d":74,"v":0.1},{"pn":"G","sr":2,"d":76,"v":0.04},{"pn":"G","sr":2,"d":80,"v":0.01},{"pn":"G","sr":2,"d":88,"v":0},
{"pn":"G","sr":3,"d":0,"v":1},{"pn":"G","sr":3,"d":30,"v":0.99},{"pn":"G","sr":3,"d":40,"v":0.98},{"pn":"G","sr":3,"d":47,"v":0.96},{"pn":"G","sr":3,"d":52,"v":0.92},{"pn":"G","sr":3,"d":56,"v":0.86},{"pn":"G","sr":3,"d":59,"v":0.8},{"pn":"G","sr":3,"d":62,"v":0.7},{"pn":"G","sr":3,"d":65,"v":0.58},{"pn":"G","sr":3,"d":68,"v":0.44},{"pn":"G","sr":3,"d":70,"v":0.3},{"pn":"G","sr":3,"d":72,"v":0.13},{"pn":"G","sr":3,"d":74,"v":0.04},{"pn":"G","sr":3,"d":77,"v":0.01},{"pn":"G","sr":3,"d":82,"v":0},
{"pn":"G","sr":4,"d":0,"v":1},{"pn":"G","sr":4,"d":30,"v":0.99},{"pn":"G","sr":4,"d":40,"v":0.98},{"pn":"G","sr":4,"d":47,"v":0.96},{"pn":"G","sr":4,"d":52,"v":0.92},{"pn":"G","sr":4,"d":56,"v":0.85},{"pn":"G","sr":4,"d":60,"v":0.76},{"pn":"G","sr":4,"d":64,"v":0.64},{"pn":"G","sr":4,"d":67,"v":0.52},{"pn":"G","sr":4,"d":70,"v":0.36},{"pn":"G","sr":4,"d":72,"v":0.22},{"pn":"G","sr":4,"d":74,"v":0.1},{"pn":"G","sr":4,"d":76,"v":0.04},{"pn":"G","sr":4,"d":80,"v":0.01},{"pn":"G","sr":4,"d":88,"v":0},
{"pn":"H","sr":1,"d":0,"v":1},{"pn":"H","sr":1,"d":35,"v":0.99},{"pn":"H","sr":1,"d":42,"v":0.97},{"pn":"H","sr":1,"d":48,"v":0.95},{"pn":"H","sr":1,"d":53,"v":0.91},{"pn":"H","sr":1,"d":58,"v":0.86},{"pn":"H","sr":1,"d":62,"v":0.8},{"pn":"H","sr":1,"d":65,"v":0.72},{"pn":"H","sr":1,"d":68,"v":0.6},{"pn":"H","sr":1,"d":70,"v":0.46},{"pn":"H","sr":1,"d":72,"v":0.26},{"pn":"H","sr":1,"d":74,"v":0.09},{"pn":"H","sr":1,"d":76,"v":0.03},{"pn":"H","sr":1,"d":80,"v":0.02},{"pn":"H","sr":1,"d":88,"v":0},
{"pn":"H","sr":2,"d":0,"v":1},{"pn":"H","sr":2,"d":35,"v":0.99},{"pn":"H","sr":2,"d":42,"v":0.97},{"pn":"H","sr":2,"d":48,"v":0.93},{"pn":"H","sr":2,"d":53,"v":0.88},{"pn":"H","sr":2,"d":57,"v":0.84},{"pn":"H","sr":2,"d":61,"v":0.77},{"pn":"H","sr":2,"d":65,"v":0.65},{"pn":"H","sr":2,"d":68,"v":0.55},{"pn":"H","sr":2,"d":70,"v":0.4},{"pn":"H","sr":2,"d":72,"v":0.22},{"pn":"H","sr":2,"d":74,"v":0.07},{"pn":"H","sr":2,"d":77,"v":0.02},{"pn":"H","sr":2,"d":85,"v":0.01},{"pn":"H","sr":2,"d":90,"v":0},
{"pn":"H","sr":3,"d":0,"v":1},{"pn":"H","sr":3,"d":35,"v":0.99},{"pn":"H","sr":3,"d":42,"v":0.97},{"pn":"H","sr":3,"d":48,"v":0.94},{"pn":"H","sr":3,"d":53,"v":0.9},{"pn":"H","sr":3,"d":56,"v":0.85},{"pn":"H","sr":3,"d":59,"v":0.74},{"pn":"H","sr":3,"d":62,"v":0.6},{"pn":"H","sr":3,"d":65,"v":0.5},{"pn":"H","sr":3,"d":68,"v":0.4},{"pn":"H","sr":3,"d":71,"v":0.27},{"pn":"H","sr":3,"d":73,"v":0.1},{"pn":"H","sr":3,"d":75,"v":0.01},{"pn":"H","sr":3,"d":76,"v":0},
{"pn":"H","sr":4,"d":0,"v":1},{"pn":"H","sr":4,"d":35,"v":1},{"pn":"H","sr":4,"d":40,"v":0.97},{"pn":"H","sr":4,"d":45,"v":0.93},{"pn":"H","sr":4,"d":50,"v":0.9},{"pn":"H","sr":4,"d":53,"v":0.85},{"pn":"H","sr":4,"d":55,"v":0.75},{"pn":"H","sr":4,"d":58,"v":0.68},{"pn":"H","sr":4,"d":60,"v":0.62},{"pn":"H","sr":4,"d":63,"v":0.5},{"pn":"H","sr":4,"d":65,"v":0.4},{"pn":"H","sr":4,"d":68,"v":0.25},{"pn":"H","sr":4,"d":70,"v":0.12},{"pn":"H","sr":4,"d":72,"v":0.03},{"pn":"H","sr":4,"d":73,"v":0},
{"pn":"H","sr":5,"d":0,"v":1},{"pn":"H","sr":5,"d":40,"v":0.99},{"pn":"H","sr":5,"d":50,"v":0.99},{"pn":"H","sr":5,"d":55,"v":0.98},{"pn":"H","sr":5,"d":60,"v":0.96},{"pn":"H","sr":5,"d":63,"v":0.93},{"pn":"H","sr":5,"d":66,"v":0.86},{"pn":"H","sr":5,"d":68,"v":0.76},{"pn":"H","sr":5,"d":70,"v":0.6},{"pn":"H","sr":5,"d":72,"v":0.35},{"pn":"H","sr":5,"d":74,"v":0.12},{"pn":"H","sr":5,"d":76,"v":0.03},{"pn":"H","sr":5,"d":80,"v":0},
{"pn":"H","sr":6,"d":0,"v":1},{"pn":"H","sr":6,"d":40,"v":0.99},{"pn":"H","sr":6,"d":50,"v":0.97},{"pn":"H","sr":6,"d":55,"v":0.93},{"pn":"H","sr":6,"d":60,"v":0.9},{"pn":"H","sr":6,"d":64,"v":0.83},{"pn":"H","sr":6,"d":67,"v":0.73},{"pn":"H","sr":6,"d":70,"v":0.56},{"pn":"H","sr":6,"d":72,"v":0.36},{"pn":"H","sr":6,"d":74,"v":0.14},{"pn":"H","sr":6,"d":76,"v":0.04},{"pn":"H","sr":6,"d":78,"v":0.01},{"pn":"H","sr":6,"d":80,"v":0}
]
},
"spacing": -10,
"resolve": {"scale": {"x": "independent", "y": "independent", "xOffset": "independent", "fill": "independent", "stroke": "independent", "strokeDash": "independent", "size": "independent"}, "legend": {"fill": "independent", "stroke": "independent", "strokeDash": "independent", "size": "independent"}},
"vconcat": [
{"hconcat": [
  {"width": 70, "height": 1, "data": {"values": []}, "mark": "point"},
  {"width": 127, "height": 128, "title": {"text": "A", "dx": -64, "offset": 7},
   "layer": [
    {"data": {"name": "A"}, "transform": [{"filter": "datum.t=='Gut'"}],
     "mark": {"type": "point", "filled": true, "opacity": 1, "stroke": "#222", "strokeWidth": 1},
     "encoding": {
      "x": {"field": "g", "type": "nominal", "scale": {"domain": [1,2,3,4], "paddingInner": 0, "paddingOuter": 0}, "axis": {"title": "Gut", "labels": false, "ticks": false, "titleY": -14, "titleBaseline": "alphabetic", "titleFontSize": 12}},
      "xOffset": {"field": "s", "type": "ordinal", "scale": {"domain": [0,1,2,3,4,5,6,7,8], "paddingInner": 0, "paddingOuter": 0}},
      "y": {"field": "v", "type": "quantitative", "scale": {"domain": [-0.18, 2.5], "nice": false, "zero": false}, "axis": {"values": [0,0.5,1,1.5,2,2.5], "tickCount": 20, "format": ".1f", "labelOverlap": false, "title": "R2F2 normalised to RPL32", "labelFontSize": 12, "titleFontSize": 11.5}},
      "fill": {"field": "g", "type": "nominal", "scale": {"domain": [1,2,3,4], "range": ["#111111","#bdbdbd","#ffffff","#3a3a3a"]}, "legend": null},
      "size": {"field": "g", "type": "ordinal", "scale": {"domain": [1,2,3,4], "range": [22,40,40,46]}, "legend": null}}},
    {"data": {"name": "As"}, "transform": [{"filter": "datum.t=='Gut'"}], "mark": {"type": "tick", "color": "#111", "thickness": 1.6, "size": 15},
     "encoding": {"x": {"field": "g", "type": "nominal"}, "xOffset": {"field": "s", "type": "ordinal"}, "y": {"field": "m", "type": "quantitative"}}},
    {"data": {"name": "As"}, "transform": [{"filter": "datum.t=='Gut'"}], "mark": {"type": "rule", "color": "#111", "strokeWidth": 1.4},
     "encoding": {"x": {"field": "g", "type": "nominal"}, "xOffset": {"field": "s", "type": "ordinal"}, "y": {"field": "lo", "type": "quantitative"}, "y2": {"field": "hi"}}},
    {"data": {"name": "As"}, "transform": [{"filter": "datum.t=='Gut'"}], "mark": {"type": "tick", "color": "#111", "thickness": 1.4, "size": 8},
     "encoding": {"x": {"field": "g", "type": "nominal"}, "xOffset": {"field": "s", "type": "ordinal"}, "y": {"field": "lo", "type": "quantitative"}}},
    {"data": {"name": "As"}, "transform": [{"filter": "datum.t=='Gut'"}], "mark": {"type": "tick", "color": "#111", "thickness": 1.4, "size": 8},
     "encoding": {"x": {"field": "g", "type": "nominal"}, "xOffset": {"field": "s", "type": "ordinal"}, "y": {"field": "hi", "type": "quantitative"}}}
   ]},
  {"width": 32, "height": 1, "data": {"values": []}, "mark": "point"},
  {"width": 115, "height": 119,
   "layer": [
    {"data": {"name": "A"}, "transform": [{"filter": "datum.t=='Head'"}],
     "mark": {"type": "point", "filled": true, "opacity": 1, "stroke": "#222", "strokeWidth": 1},
     "encoding": {
      "x": {"field": "g", "type": "nominal", "scale": {"domain": [1,2,3,4], "paddingInner": 0, "paddingOuter": 0}, "axis": {"title": "Head", "labels": false, "ticks": false, "titleY": -5, "titleBaseline": "alphabetic", "titleFontSize": 12}},
      "xOffset": {"field": "s", "type": "ordinal", "scale": {"domain": [0,1,2,3,4,5,6,7,8], "paddingInner": 0, "paddingOuter": 0}},
      "y": {"field": "v", "type": "quantitative", "scale": {"domain": [0, 4], "nice": false}, "axis": {"values": [0,1,2,3,4], "tickCount": 20, "format": "d", "labelOverlap": false, "title": "R2F2 normalised to RPL32", "labelFontSize": 12, "titleFontSize": 11.5}},
      "fill": {"field": "g", "type": "nominal", "scale": {"domain": [1,2,3,4], "range": ["#111111","#bdbdbd","#ffffff","#3a3a3a"]}, "legend": null},
      "size": {"field": "g", "type": "ordinal", "scale": {"domain": [1,2,3,4], "range": [22,40,40,46]}, "legend": null}}},
    {"data": {"name": "As"}, "transform": [{"filter": "datum.t=='Head'"}], "mark": {"type": "tick", "color": "#111", "thickness": 1.6, "size": 15},
     "encoding": {"x": {"field": "g", "type": "nominal"}, "xOffset": {"field": "s", "type": "ordinal"}, "y": {"field": "m", "type": "quantitative"}}},
    {"data": {"name": "As"}, "transform": [{"filter": "datum.t=='Head'"}], "mark": {"type": "rule", "color": "#111", "strokeWidth": 1.4},
     "encoding": {"x": {"field": "g", "type": "nominal"}, "xOffset": {"field": "s", "type": "ordinal"}, "y": {"field": "lo", "type": "quantitative"}, "y2": {"field": "hi"}}},
    {"data": {"name": "As"}, "transform": [{"filter": "datum.t=='Head'"}], "mark": {"type": "tick", "color": "#111", "thickness": 1.4, "size": 8},
     "encoding": {"x": {"field": "g", "type": "nominal"}, "xOffset": {"field": "s", "type": "ordinal"}, "y": {"field": "lo", "type": "quantitative"}}},
    {"data": {"name": "As"}, "transform": [{"filter": "datum.t=='Head'"}], "mark": {"type": "tick", "color": "#111", "thickness": 1.4, "size": 8},
     "encoding": {"x": {"field": "g", "type": "nominal"}, "xOffset": {"field": "s", "type": "ordinal"}, "y": {"field": "hi", "type": "quantitative"}}},
    {"data": {"name": "Ab"}, "mark": {"type": "line", "color": "#111", "strokeWidth": 1.3},
     "encoding": {"x": {"field": "g", "type": "nominal"}, "xOffset": {"field": "s", "type": "ordinal"}, "y": {"field": "v", "type": "quantitative"}, "detail": {"field": "id"}, "order": {"field": "k", "type": "quantitative"}}},
    {"data": {"name": "Al"}, "mark": {"type": "text", "fontSize": 10, "color": "#111", "baseline": "alphabetic", "dy": 1},
     "encoding": {"x": {"field": "g", "type": "nominal"}, "xOffset": {"field": "s", "type": "ordinal"}, "y": {"field": "v", "type": "quantitative"}, "text": {"field": "txt"}}}
   ]},
  {"width": 41, "height": 1, "data": {"values": []}, "mark": "point"},
  {"width": 112, "height": 119,
   "layer": [
    {"data": {"name": "A"}, "transform": [{"filter": "datum.t=='Tho' && datum.g>1"}],
     "mark": {"type": "point", "filled": true, "opacity": 1, "stroke": "#222", "strokeWidth": 1, "size": 42},
     "encoding": {
      "x": {"field": "g", "type": "nominal", "scale": {"domain": [1,2,3,4], "paddingInner": 0, "paddingOuter": 0}, "axis": {"title": "Thorax", "labels": false, "ticks": false, "titleY": -6, "titleBaseline": "alphabetic", "titleFontSize": 12}},
      "xOffset": {"field": "s", "type": "ordinal", "scale": {"domain": [0,1,2,3,4,5,6,7,8], "paddingInner": 0, "paddingOuter": 0}},
      "y": {"field": "v", "type": "quantitative", "scale": {"domain": [0, 1.5], "nice": false}, "axis": {"values": [0,0.5,1,1.5], "tickCount": 20, "format": ".1f", "labelOverlap": false, "title": "R2F2 normalised to RPL32", "labelFontSize": 12, "titleFontSize": 11.5}},
      "fill": {"field": "g", "type": "nominal", "scale": {"domain": [1,2,3,4], "range": ["#111111","#bdbdbd","#ffffff","#3a3a3a"]},
        "legend": {"title": null, "orient": "none", "legendX": 118, "legendY": 55, "symbolType": "square", "symbolSize": 81, "symbolStrokeColor": "#222", "symbolStrokeWidth": 1, "labelFontSize": 10.5, "labelFontStyle": "italic", "rowPadding": 5.7, "labelExpr": "['wᴰᵃʰ','dfoxo⁹⁴','Insp3-Gal4/UAS-rpr','Insp3-Gal4/UAS-rpr, dfoxo⁹⁴'][datum.value-1]"}}}},
    {"data": {"name": "A"}, "transform": [{"filter": "datum.t=='Tho' && datum.g==1"}],
     "mark": {"type": "point", "filled": true, "opacity": 1, "stroke": "#222", "strokeWidth": 1, "size": 22, "fill": "#111111"},
     "encoding": {
      "x": {"field": "g", "type": "nominal"},
      "xOffset": {"field": "s", "type": "ordinal"},
      "y": {"field": "v", "type": "quantitative"}}},
    {"data": {"name": "As"}, "transform": [{"filter": "datum.t=='Tho'"}], "mark": {"type": "tick", "color": "#111", "thickness": 1.6, "size": 13},
     "encoding": {"x": {"field": "g", "type": "nominal"}, "xOffset": {"field": "s", "type": "ordinal"}, "y": {"field": "m", "type": "quantitative"}}},
    {"data": {"name": "As"}, "transform": [{"filter": "datum.t=='Tho'"}], "mark": {"type": "rule", "color": "#111", "strokeWidth": 1.4},
     "encoding": {"x": {"field": "g", "type": "nominal"}, "xOffset": {"field": "s", "type": "ordinal"}, "y": {"field": "lo", "type": "quantitative"}, "y2": {"field": "hi"}}},
    {"data": {"name": "As"}, "transform": [{"filter": "datum.t=='Tho'"}], "mark": {"type": "tick", "color": "#111", "thickness": 1.4, "size": 7},
     "encoding": {"x": {"field": "g", "type": "nominal"}, "xOffset": {"field": "s", "type": "ordinal"}, "y": {"field": "lo", "type": "quantitative"}}},
    {"data": {"name": "As"}, "transform": [{"filter": "datum.t=='Tho'"}], "mark": {"type": "tick", "color": "#111", "thickness": 1.4, "size": 7},
     "encoding": {"x": {"field": "g", "type": "nominal"}, "xOffset": {"field": "s", "type": "ordinal"}, "y": {"field": "hi", "type": "quantitative"}}}
   ]}
 ], "spacing": 0, "bounds": "flush",
 "resolve": {"scale": {"x": "independent", "y": "independent", "xOffset": "independent", "fill": "independent", "stroke": "independent", "strokeDash": "independent", "size": "independent"}, "legend": {"fill": "independent", "stroke": "independent", "strokeDash": "independent", "size": "independent"}}},
{"width": 1, "height": 5, "data": {"values": []}, "mark": "point"},
{"hconcat": [
  {"width": 72, "height": 1, "data": {"values": []}, "mark": "point"},
  {"width": 170, "height": 191, "title": {"text": "B", "dx": -60, "offset": -15},
   "layer": [
    {"data": {"name": "Bd"}, "transform": [{"filter": "datum.p=='B'"}],
     "mark": {"type": "point", "filled": true, "opacity": 1, "stroke": "#333", "strokeWidth": 1, "size": 72},
     "encoding": {
      "x": {"field": "m", "type": "nominal", "scale": {"domain": ["PGMP3","Vmax","Rot"], "paddingInner": 0, "paddingOuter": 0}, "axis": {"title": null, "tickBand": "extent", "tickSize": 5, "labelFontSize": 12, "labelPadding": 3, "labelAngle": 0, "labelExpr": "datum.value=='Rot'?['Rotenone','Sensitive']:datum.value"}},
      "xOffset": {"field": "s", "type": "ordinal", "scale": {"domain": [0,1,2,3,4,5,6,7,8,9,10,11,12,13,14,15,16], "paddingInner": 0, "paddingOuter": 0}},
      "y": {"field": "v", "type": "quantitative", "scale": {"domain": [0, 250], "nice": false}, "axis": {"values": [0,50,100,150,200,250], "tickCount": 20, "labelOverlap": false, "title": "JO2 (pmol / sec / mg wt.)", "labelFontSize": 11.5}},
      "fill": {"field": "g", "type": "nominal", "scale": {"domain": [1,2,3,4], "range": ["#2e9b4e","#3f62b2","#e8412f","#b8d34e"]},
        "legend": {"title": null, "orient": "none", "legendX": 122, "legendY": 61, "symbolType": "square", "symbolSize": 100, "symbolStrokeColor": "#222", "symbolStrokeWidth": 1, "labelFontSize": 11, "labelFontStyle": "italic", "rowPadding": -2, "labelOffset": 2, "labelExpr": "[['S106-GS/+ RU'],['S106-GS/UAS-Srl RNAi RU'],['dilp2-3,5 RU'],['S106-GS/UAS-Srl RNAi;','dilp2-3,5 RU']][datum.value-1]"}}}},
    {"data": {"name": "Bs"}, "transform": [{"filter": "datum.p=='B'"}], "mark": {"type": "tick", "color": "#111", "thickness": 1.6, "size": 11},
     "encoding": {"x": {"field": "m", "type": "nominal"}, "xOffset": {"field": "s", "type": "ordinal"}, "y": {"field": "mn", "type": "quantitative"}}},
    {"data": {"name": "Bs"}, "transform": [{"filter": "datum.p=='B'"}], "mark": {"type": "rule", "color": "#111", "strokeWidth": 1.4},
     "encoding": {"x": {"field": "m", "type": "nominal"}, "xOffset": {"field": "s", "type": "ordinal"}, "y": {"field": "lo", "type": "quantitative"}, "y2": {"field": "hi"}}},
    {"data": {"name": "Bs"}, "transform": [{"filter": "datum.p=='B'"}], "mark": {"type": "tick", "color": "#111", "thickness": 1.4, "size": 6},
     "encoding": {"x": {"field": "m", "type": "nominal"}, "xOffset": {"field": "s", "type": "ordinal"}, "y": {"field": "lo", "type": "quantitative"}}},
    {"data": {"name": "Bs"}, "transform": [{"filter": "datum.p=='B'"}], "mark": {"type": "tick", "color": "#111", "thickness": 1.4, "size": 6},
     "encoding": {"x": {"field": "m", "type": "nominal"}, "xOffset": {"field": "s", "type": "ordinal"}, "y": {"field": "hi", "type": "quantitative"}}},
    {"data": {"name": "Bb"}, "transform": [{"filter": "datum.p=='B'"}], "mark": {"type": "line", "color": "#111", "strokeWidth": 1.2},
     "encoding": {"x": {"field": "m", "type": "nominal"}, "xOffset": {"field": "s", "type": "ordinal"}, "y": {"field": "v", "type": "quantitative"}, "detail": {"field": "id"}, "order": {"field": "k", "type": "quantitative"}}},
    {"data": {"name": "Bl"}, "transform": [{"filter": "datum.p=='B'"}], "mark": {"type": "text", "fontSize": 10, "color": "#111", "baseline": "alphabetic", "dy": 1},
     "encoding": {"x": {"field": "m", "type": "nominal"}, "xOffset": {"field": "s", "type": "ordinal"}, "y": {"field": "v", "type": "quantitative"}, "text": {"field": "txt"}}}
   ]},
  {"width": 143, "height": 1, "data": {"values": []}, "mark": "point"},
  {"width": 185, "height": 191, "title": {"text": "C", "dx": -46, "offset": -16},
   "layer": [
    {"data": {"name": "Bd"}, "transform": [{"filter": "datum.p=='C'"}],
     "mark": {"type": "point", "filled": true, "opacity": 1, "stroke": "#333", "strokeWidth": 1, "size": 72},
     "encoding": {
      "x": {"field": "m", "type": "nominal", "scale": {"domain": ["PGMP3","Vmax","Rot"], "paddingInner": 0, "paddingOuter": 0}, "axis": {"title": null, "tickBand": "extent", "tickSize": 5, "labelFontSize": 12, "labelPadding": 3, "labelAngle": 0, "labelExpr": "datum.value=='Rot'?['Rotenone','Sensitive']:datum.value"}},
      "xOffset": {"field": "s", "type": "ordinal", "scale": {"domain": [0,1,2,3,4,5,6,7,8,9,10,11,12,13,14,15,16], "paddingInner": 0, "paddingOuter": 0}},
      "y": {"field": "v", "type": "quantitative", "scale": {"domain": [0, 250], "nice": false}, "axis": {"values": [0,50,100,150,200,250], "tickCount": 20, "labelOverlap": false, "title": "JO2 (pmol / sec / mg wt.)", "labelFontSize": 11.5}},
      "fill": {"field": "g", "type": "nominal", "scale": {"domain": [1,2,3,4], "range": ["#2e9b4e","#8e5fa8","#e8412f","#39b4e6"]},
        "legend": {"title": null, "orient": "none", "legendX": 126, "legendY": 51, "symbolType": "square", "symbolSize": 100, "symbolStrokeColor": "#222", "symbolStrokeWidth": 1, "labelFontSize": 11, "labelFontStyle": "italic", "rowPadding": -1.5, "labelOffset": 2, "labelExpr": "[['S106-GS/+ RU'],['S106-GS/UAS-delg RNAi RU'],['dilp2-3,5 RU'],['S106-GS/UAS-delg RNAi;','dilp2-3,5 RU']][datum.value-1]"}}}},
    {"data": {"name": "Bs"}, "transform": [{"filter": "datum.p=='C'"}], "mark": {"type": "tick", "color": "#111", "thickness": 1.6, "size": 11},
     "encoding": {"x": {"field": "m", "type": "nominal"}, "xOffset": {"field": "s", "type": "ordinal"}, "y": {"field": "mn", "type": "quantitative"}}},
    {"data": {"name": "Bs"}, "transform": [{"filter": "datum.p=='C'"}], "mark": {"type": "rule", "color": "#111", "strokeWidth": 1.4},
     "encoding": {"x": {"field": "m", "type": "nominal"}, "xOffset": {"field": "s", "type": "ordinal"}, "y": {"field": "lo", "type": "quantitative"}, "y2": {"field": "hi"}}},
    {"data": {"name": "Bs"}, "transform": [{"filter": "datum.p=='C'"}], "mark": {"type": "tick", "color": "#111", "thickness": 1.4, "size": 6},
     "encoding": {"x": {"field": "m", "type": "nominal"}, "xOffset": {"field": "s", "type": "ordinal"}, "y": {"field": "lo", "type": "quantitative"}}},
    {"data": {"name": "Bs"}, "transform": [{"filter": "datum.p=='C'"}], "mark": {"type": "tick", "color": "#111", "thickness": 1.4, "size": 6},
     "encoding": {"x": {"field": "m", "type": "nominal"}, "xOffset": {"field": "s", "type": "ordinal"}, "y": {"field": "hi", "type": "quantitative"}}},
    {"data": {"name": "Bb"}, "transform": [{"filter": "datum.p=='C'"}], "mark": {"type": "line", "color": "#111", "strokeWidth": 1.2},
     "encoding": {"x": {"field": "m", "type": "nominal"}, "xOffset": {"field": "s", "type": "ordinal"}, "y": {"field": "v", "type": "quantitative"}, "detail": {"field": "id"}, "order": {"field": "k", "type": "quantitative"}}},
    {"data": {"name": "Bl"}, "transform": [{"filter": "datum.p=='C'"}], "mark": {"type": "text", "fontSize": 10, "color": "#111", "baseline": "alphabetic", "dy": 1},
     "encoding": {"x": {"field": "m", "type": "nominal"}, "xOffset": {"field": "s", "type": "ordinal"}, "y": {"field": "v", "type": "quantitative"}, "text": {"field": "txt"}}}
   ]}
 ], "spacing": 0, "bounds": "flush",
 "resolve": {"scale": {"x": "independent", "y": "independent", "xOffset": "independent", "fill": "independent", "stroke": "independent", "strokeDash": "independent", "size": "independent"}, "legend": {"fill": "independent", "stroke": "independent", "strokeDash": "independent", "size": "independent"}}},
{"width": 1, "height": 17, "data": {"values": []}, "mark": "point"},
{"hconcat": [
  {"width": 0.01, "height": 1, "data": {"values": []}, "mark": "point", "title": {"text": "D", "dx": -31, "offset": 15}},
  {"width": 310, "height": 127, "title": {"text": "Controls UAS-Srl RNAi", "fontSize": 12, "fontWeight": "normal", "dx": 39, "offset": 3},
   "layer": [
    {"data": {"name": "S"}, "transform": [{"filter": "datum.pn=='D'"}], "mark": {"type": "line", "strokeWidth": 1.4},
     "encoding": {
      "x": {"field": "d", "type": "quantitative", "scale": {"domain": [0, 110], "nice": false}, "axis": {"values": [0,10,20,30,40,50,60,70,80,90,100,110], "title": "Days", "titlePadding": 2}},
      "y": {"field": "v", "type": "quantitative", "scale": {"domain": [0, 1], "nice": false}, "axis": {"values": [0,0.2,0.4,0.6,0.8,1], "format": ".1f", "title": "Survival", "titleFontSize": 12, "titlePadding": 2}},
      "stroke": {"field": "sr", "type": "nominal", "scale": {"domain": [1,2,3,4,5,6,7,8,9,10], "range": ["#33409a","#4a5db8","#3aa452","#b3cf4a","#3b3f99","#4b60b8","#2aa698","#1d7a3c","#45b549","#bcd24e"]},
        "legend": {"title": null, "orient": "none", "legendX": 14, "legendY": 25, "symbolType": "stroke", "symbolSize": 64, "symbolStrokeWidth": 1.6, "labelFontSize": 8.7, "labelFontStyle": "italic", "rowPadding": 0, "labelOffset": 3, "labelExpr": "['UAS-SrlRNAi/+ EtOH','UAS-SrlRNAi/+ RU','S106-GS/+ EtOH','S106-GS/+ RU','dilp2-3,5 EtOH','dilp2-3,5 RU','S106-GS/+;dilp2-3,5 EtOH','S106-GS/+;dilp2-3,5 RU','UAS-SrlRNAi/+;dilp2-3,5 EtOH','UAS-SrlRNAi/+;dilp2-3,5 RU'][datum.value-1]"}}}}
   ]},
  {"width": 30, "height": 1, "data": {"values": []}, "mark": "point", "title": {"text": "E", "dx": -1, "offset": 12}},
  {"width": 320, "height": 127, "title": {"text": "delg-RNAi in Fat body", "fontSize": 12, "fontWeight": "normal", "dx": 12, "offset": 9},
   "layer": [
    {"data": {"name": "S"}, "transform": [{"filter": "datum.pn=='E'"}], "mark": {"type": "line", "strokeWidth": 1.4},
     "encoding": {
      "x": {"field": "d", "type": "quantitative", "scale": {"domain": [0, 110], "nice": false}, "axis": {"values": [0,10,20,30,40,50,60,70,80,90,100,110], "title": "Days", "titlePadding": 2}},
      "y": {"field": "v", "type": "quantitative", "scale": {"domain": [0, 1], "nice": false}, "axis": {"values": [0,0.2,0.4,0.6,0.8,1], "format": ".1f", "title": "Survival", "titleFontSize": 12, "titlePadding": 2}},
      "stroke": {"field": "sr", "type": "nominal", "scale": {"domain": [1,2,3,4,5,6,7,8,9,10,11,12,13,14], "range": ["#279a97","#1e7a40","#3fae4a","#b0cc3c","#5a4aa6","#3c55b0","#35a9a9","#1b6b38","#f2c02c","#f0883a","#111111","#111111","#e8302a","#e8302a"]},
        "legend": {"title": null, "orient": "none", "legendX": 5, "legendY": 1, "symbolType": "stroke", "symbolSize": 49, "symbolStrokeWidth": 1.6, "labelFontSize": 8.5, "labelFontStyle": "italic", "rowPadding": 0, "labelOffset": 3, "labelExpr": "['UAS-delgRNAi/+EtOH','UAS-delgRNAi/+ RU','S106-GS/+ EtOH','S106-GS/+ RU','dilp2-3,5 EtOH','dilp2-3,5 RU','S106-GS/+;dilp2-3,5 EtOH','S106-GS/+;dilp2-3,5 RU','UAS-delgRNAi/+;dilp2-3,5 EtOH','UAS-delgRNAi/+;dilp2-3,5 RU','S106-GS-UAS-delgRNAi EtOH','S106-GS-UAS-delgRNAi RU','S106-GS-UAS-delgRNAi;dilp2-3,5 EtOH','S106-GS-UAS-delgRNAi;dilp2-3,5 RU'][datum.value-1]"}},
      "strokeDash": {"field": "sr", "type": "nominal", "scale": {"domain": [1,2,3,4,5,6,7,8,9,10,11,12,13,14], "range": [[1,0],[1,0],[1,0],[1,0],[1,0],[1,0],[1,0],[1,0],[1,0],[1,0],[4,2],[1,0],[4,2],[1,0]]},
        "legend": {"title": null, "orient": "none", "legendX": 5, "legendY": 1, "symbolType": "stroke", "symbolSize": 49, "symbolStrokeWidth": 1.6, "labelFontSize": 8.5, "labelFontStyle": "italic", "rowPadding": 0, "labelOffset": 3, "labelExpr": "['UAS-delgRNAi/+EtOH','UAS-delgRNAi/+ RU','S106-GS/+ EtOH','S106-GS/+ RU','dilp2-3,5 EtOH','dilp2-3,5 RU','S106-GS/+;dilp2-3,5 EtOH','S106-GS/+;dilp2-3,5 RU','UAS-delgRNAi/+;dilp2-3,5 EtOH','UAS-delgRNAi/+;dilp2-3,5 RU','S106-GS-UAS-delgRNAi EtOH','S106-GS-UAS-delgRNAi RU','S106-GS-UAS-delgRNAi;dilp2-3,5 EtOH','S106-GS-UAS-delgRNAi;dilp2-3,5 RU'][datum.value-1]"}}}},
    {"data": {"name": "Ea"}, "mark": {"type": "line", "color": "#111", "strokeWidth": 1},
     "encoding": {"x": {"field": "d", "type": "quantitative"}, "y": {"field": "v", "type": "quantitative"}, "detail": {"field": "id"}, "order": {"field": "k", "type": "quantitative"}}},
    {"data": {"name": "Et"}, "mark": {"type": "text", "fontSize": 10, "color": "#111", "align": "left", "baseline": "middle", "dy": 3},
     "encoding": {"x": {"field": "d", "type": "quantitative"}, "y": {"field": "v", "type": "quantitative"}, "text": {"field": "txt"}}}
   ]}
 ], "spacing": 0, "bounds": "flush",
 "resolve": {"scale": {"x": "independent", "y": "independent", "xOffset": "independent", "fill": "independent", "stroke": "independent", "strokeDash": "independent", "size": "independent"}, "legend": {"fill": "independent", "stroke": "independent", "strokeDash": "independent", "size": "independent"}}},
{"width": 1, "height": 8, "data": {"values": []}, "mark": "point"},
{"hconcat": [
  {"width": 0.01, "height": 1, "data": {"values": []}, "mark": "point", "title": {"text": "F", "dx": -31, "offset": -2}},
  {"width": 82, "height": 118, "title": {"text": "+/UAS-Srl", "anchor": "middle", "fontSize": 11, "fontStyle": "italic", "fontWeight": "normal", "offset": -9},
   "layer": [
    {"data": {"name": "Fd"}, "transform": [{"filter": "datum.p==1"}],
     "mark": {"type": "point", "filled": true, "opacity": 1, "stroke": "#111", "strokeWidth": 1, "size": 36},
     "encoding": {
      "x": {"field": "m", "type": "nominal", "scale": {"domain": ["PGMP3","Vmax","Rot"], "paddingInner": 0, "paddingOuter": 0}, "axis": {"title": null, "labelAngle": -35, "labelAlign": "right", "labelBaseline": "top", "labelOffset": 12, "labelPadding": 3, "tickBand": "extent", "tickSize": 3, "labelFontSize": 11, "labelExpr": "datum.value=='Rot'?['Rotenone','sensitive']:datum.value"}},
      "xOffset": {"field": "s", "type": "ordinal", "scale": {"domain": [0,1,2,3,4,5,6,7,8], "paddingInner": 0, "paddingOuter": 0}},
      "y": {"field": "v", "type": "quantitative", "scale": {"domain": [0, 109], "nice": false}, "axis": {"values": [0,20,40,60,80,100], "tickCount": 20, "labelOverlap": false, "title": "JO₂ (pmol/sec/mg wt.)", "labelFontSize": 11, "titleFontSize": 10.5, "titlePadding": 1, "labelPadding": 1, "tickSize": 3}},
      "fill": {"field": "t", "type": "nominal", "scale": {"domain": ["ETOH","RU486"], "range": ["#ffffff","#e0362c"]},
        "legend": {"title": null, "orient": "none", "legendX": 7, "legendY": 10, "symbolType": "square", "symbolSize": 64, "symbolStrokeColor": "#111", "symbolStrokeWidth": 1.3, "labelFontSize": 11, "labelFontStyle": "normal", "rowPadding": -6}}}},
    {"data": {"name": "Fs"}, "transform": [{"filter": "datum.p==1"}], "mark": {"type": "tick", "color": "#111", "thickness": 1.4, "size": 9},
     "encoding": {"x": {"field": "m", "type": "nominal"}, "xOffset": {"field": "s", "type": "ordinal"}, "y": {"field": "mn", "type": "quantitative"}}},
    {"data": {"name": "Fs"}, "transform": [{"filter": "datum.p==1"}], "mark": {"type": "rule", "color": "#111", "strokeWidth": 1.2},
     "encoding": {"x": {"field": "m", "type": "nominal"}, "xOffset": {"field": "s", "type": "ordinal"}, "y": {"field": "lo", "type": "quantitative"}, "y2": {"field": "hi"}}},
    {"data": {"name": "Fs"}, "transform": [{"filter": "datum.p==1"}], "mark": {"type": "tick", "color": "#111", "thickness": 1.2, "size": 5},
     "encoding": {"x": {"field": "m", "type": "nominal"}, "xOffset": {"field": "s", "type": "ordinal"}, "y": {"field": "lo", "type": "quantitative"}}},
    {"data": {"name": "Fs"}, "transform": [{"filter": "datum.p==1"}], "mark": {"type": "tick", "color": "#111", "thickness": 1.2, "size": 5},
     "encoding": {"x": {"field": "m", "type": "nominal"}, "xOffset": {"field": "s", "type": "ordinal"}, "y": {"field": "hi", "type": "quantitative"}}}
   ]},
  {"width": 77, "height": 118, "title": {"text": "+/S106-GS", "anchor": "middle", "fontSize": 11, "fontStyle": "italic", "fontWeight": "normal", "offset": -8.5},
   "layer": [
    {"data": {"name": "Fd"}, "transform": [{"filter": "datum.p==2"}],
     "mark": {"type": "point", "filled": true, "opacity": 1, "stroke": "#111", "strokeWidth": 1, "size": 36},
     "encoding": {
      "x": {"field": "m", "type": "nominal", "scale": {"domain": ["PGMP3","Vmax","Rot"], "paddingInner": 0, "paddingOuter": 0}, "axis": {"title": null, "labelAngle": -35, "labelAlign": "right", "labelBaseline": "top", "labelOffset": 12, "labelPadding": 3, "tickBand": "extent", "tickSize": 3, "labelFontSize": 11, "labelExpr": "datum.value=='Rot'?['Rotenone','sensitive']:datum.value"}},
      "xOffset": {"field": "s", "type": "ordinal", "scale": {"domain": [0,1,2,3,4,5,6,7,8], "paddingInner": 0, "paddingOuter": 0}},
      "y": {"field": "v", "type": "quantitative", "scale": {"domain": [0, 109], "nice": false}, "axis": {"labels": false, "ticks": false, "title": null}},
      "fill": {"field": "t", "type": "nominal", "scale": {"domain": ["ETOH","RU486"], "range": ["#ffffff","#e0362c"]}, "legend": null}}},
    {"data": {"name": "Fs"}, "transform": [{"filter": "datum.p==2"}], "mark": {"type": "tick", "color": "#111", "thickness": 1.4, "size": 9},
     "encoding": {"x": {"field": "m", "type": "nominal"}, "xOffset": {"field": "s", "type": "ordinal"}, "y": {"field": "mn", "type": "quantitative"}}},
    {"data": {"name": "Fs"}, "transform": [{"filter": "datum.p==2"}], "mark": {"type": "rule", "color": "#111", "strokeWidth": 1.2},
     "encoding": {"x": {"field": "m", "type": "nominal"}, "xOffset": {"field": "s", "type": "ordinal"}, "y": {"field": "lo", "type": "quantitative"}, "y2": {"field": "hi"}}},
    {"data": {"name": "Fs"}, "transform": [{"filter": "datum.p==2"}], "mark": {"type": "tick", "color": "#111", "thickness": 1.2, "size": 5},
     "encoding": {"x": {"field": "m", "type": "nominal"}, "xOffset": {"field": "s", "type": "ordinal"}, "y": {"field": "lo", "type": "quantitative"}}},
    {"data": {"name": "Fs"}, "transform": [{"filter": "datum.p==2"}], "mark": {"type": "tick", "color": "#111", "thickness": 1.2, "size": 5},
     "encoding": {"x": {"field": "m", "type": "nominal"}, "xOffset": {"field": "s", "type": "ordinal"}, "y": {"field": "hi", "type": "quantitative"}}}
   ]},
  {"width": 80, "height": 118, "title": {"text": "S106-GS/UAS-Srl", "anchor": "middle", "fontSize": 11, "fontStyle": "italic", "fontWeight": "normal", "offset": -8.5},
   "layer": [
    {"data": {"name": "Fd"}, "transform": [{"filter": "datum.p==3"}],
     "mark": {"type": "point", "filled": true, "opacity": 1, "stroke": "#111", "strokeWidth": 1, "size": 36},
     "encoding": {
      "x": {"field": "m", "type": "nominal", "scale": {"domain": ["PGMP3","Vmax","Rot"], "paddingInner": 0, "paddingOuter": 0}, "axis": {"title": null, "labelAngle": -35, "labelAlign": "right", "labelBaseline": "top", "labelOffset": 12, "labelPadding": 3, "tickBand": "extent", "tickSize": 3, "labelFontSize": 11, "labelExpr": "datum.value=='Rot'?['Rotenone','sensitive']:datum.value"}},
      "xOffset": {"field": "s", "type": "ordinal", "scale": {"domain": [0,1,2,3,4,5,6,7,8], "paddingInner": 0, "paddingOuter": 0}},
      "y": {"field": "v", "type": "quantitative", "scale": {"domain": [0, 109], "nice": false}, "axis": {"labels": false, "ticks": false, "title": null}},
      "fill": {"field": "t", "type": "nominal", "scale": {"domain": ["ETOH","RU486"], "range": ["#ffffff","#e0362c"]}, "legend": null}}},
    {"data": {"name": "Fs"}, "transform": [{"filter": "datum.p==3"}], "mark": {"type": "tick", "color": "#111", "thickness": 1.4, "size": 9},
     "encoding": {"x": {"field": "m", "type": "nominal"}, "xOffset": {"field": "s", "type": "ordinal"}, "y": {"field": "mn", "type": "quantitative"}}},
    {"data": {"name": "Fs"}, "transform": [{"filter": "datum.p==3"}], "mark": {"type": "rule", "color": "#111", "strokeWidth": 1.2},
     "encoding": {"x": {"field": "m", "type": "nominal"}, "xOffset": {"field": "s", "type": "ordinal"}, "y": {"field": "lo", "type": "quantitative"}, "y2": {"field": "hi"}}},
    {"data": {"name": "Fs"}, "transform": [{"filter": "datum.p==3"}], "mark": {"type": "tick", "color": "#111", "thickness": 1.2, "size": 5},
     "encoding": {"x": {"field": "m", "type": "nominal"}, "xOffset": {"field": "s", "type": "ordinal"}, "y": {"field": "lo", "type": "quantitative"}}},
    {"data": {"name": "Fs"}, "transform": [{"filter": "datum.p==3"}], "mark": {"type": "tick", "color": "#111", "thickness": 1.2, "size": 5},
     "encoding": {"x": {"field": "m", "type": "nominal"}, "xOffset": {"field": "s", "type": "ordinal"}, "y": {"field": "hi", "type": "quantitative"}}},
    {"data": {"name": "Fb"}, "mark": {"type": "line", "color": "#111", "strokeWidth": 1.2},
     "encoding": {"x": {"field": "m", "type": "nominal"}, "xOffset": {"field": "s", "type": "ordinal"}, "y": {"field": "v", "type": "quantitative"}, "detail": {"field": "id"}, "order": {"field": "k", "type": "quantitative"}}},
    {"data": {"name": "Fl"}, "mark": {"type": "text", "fontSize": 10, "color": "#111", "baseline": "alphabetic", "dy": 0},
     "encoding": {"x": {"field": "m", "type": "nominal"}, "xOffset": {"field": "s", "type": "ordinal"}, "y": {"field": "v", "type": "quantitative"}, "text": {"field": "txt"}}}
   ]},
  {"width": 36, "height": 1, "data": {"values": []}, "mark": "point"},
  {"width": 182, "height": 117, "title": {"text": "G", "dx": -23, "offset": -2},
   "layer": [
    {"data": {"name": "S"}, "transform": [{"filter": "datum.pn=='G'"}], "mark": {"type": "line", "strokeWidth": 1.5},
     "encoding": {
      "x": {"field": "d", "type": "quantitative", "scale": {"domain": [0, 90], "nice": false}, "axis": {"values": [0,10,20,30,40,50,60,70,80,90], "title": "Days", "titleFontSize": 12, "labelFontSize": 11.5}},
      "y": {"field": "v", "type": "quantitative", "scale": {"domain": [0, 1], "nice": false}, "axis": {"values": [0,0.2,0.4,0.6,0.8,1], "labelExpr": "datum.value==0?'0':format(datum.value,'.1f')", "title": "Survival", "titleFontSize": 11.5, "titlePadding": 1, "labelFontSize": 11.5}},
      "stroke": {"field": "sr", "type": "nominal", "scale": {"domain": [1,2,3,4], "range": ["#35a852","#35a852","#3bb0e0","#3bb0e0"]},
        "legend": {"title": null, "orient": "none", "legendX": 10, "legendY": 44, "symbolType": "stroke", "symbolSize": 72, "symbolStrokeWidth": 1.6, "labelFontSize": 11.5, "labelFontStyle": "italic", "rowPadding": 0.2, "labelOffset": 3, "labelExpr": "['S106-GS/+ ETOH','S106-GS/+ RU','UAS-Srl/+ ETOH','UAS-Srl/+ RU'][datum.value-1]"}},
      "strokeDash": {"field": "sr", "type": "nominal", "scale": {"domain": [1,2,3,4], "range": [[4,2],[1,0],[4,2],[1,0]]},
        "legend": {"title": null, "orient": "none", "legendX": 10, "legendY": 44, "symbolType": "stroke", "symbolSize": 72, "symbolStrokeWidth": 1.6, "labelFontSize": 11.5, "labelFontStyle": "italic", "rowPadding": 0.2, "labelOffset": 3, "labelExpr": "['S106-GS/+ ETOH','S106-GS/+ RU','UAS-Srl/+ ETOH','UAS-Srl/+ RU'][datum.value-1]"}}}}
   ]},
  {"width": 27, "height": 1, "data": {"values": []}, "mark": "point"},
  {"width": 182, "height": 114, "title": {"text": "H", "dx": -37, "offset": -2},
   "layer": [
    {"data": {"name": "S"}, "transform": [{"filter": "datum.pn=='H'"}], "mark": {"type": "line", "strokeWidth": 1.5},
     "encoding": {
      "x": {"field": "d", "type": "quantitative", "scale": {"domain": [0, 90], "nice": false}, "axis": {"values": [0,10,20,30,40,50,60,70,80,90], "title": "Days", "titleFontSize": 12, "labelFontSize": 11.5}},
      "y": {"field": "v", "type": "quantitative", "scale": {"domain": [0, 1], "nice": false}, "axis": {"values": [0,0.2,0.4,0.6,0.8,1], "labelExpr": "datum.value==0?'0':format(datum.value,'.1f')", "title": "Survival", "titleFontSize": 11.5, "titlePadding": 1, "labelFontSize": 11.5}},
      "stroke": {"field": "sr", "type": "nominal", "scale": {"domain": [1,2,3,4,5,6], "range": ["#3bb3e4","#3bb3e4","#f26b2a","#f26b2a","#8e3fa8","#8e3fa8"]},
        "legend": {"title": null, "orient": "none", "legendX": 3, "legendY": 39, "symbolType": "stroke", "symbolSize": 100, "symbolStrokeWidth": 1.6, "labelFontSize": 11, "labelFontStyle": "italic", "rowPadding": 1.6, "labelOffset": 2, "labelExpr": "['UAS-Srl/+ ETOH','UAS-Srl/+ RU','Tigs-2GS/+ ETOH','Tigs-2GS/+ RU','Tigs-2GS/UAS-Srl ETOH','Tigs-2GS/UAS-Srl RU'][datum.value-1]"}},
      "strokeDash": {"field": "sr", "type": "nominal", "scale": {"domain": [1,2,3,4,5,6], "range": [[4,2],[1,0],[4,2],[1,0],[4,2],[1,0]]},
        "legend": {"title": null, "orient": "none", "legendX": 3, "legendY": 39, "symbolType": "stroke", "symbolSize": 100, "symbolStrokeWidth": 1.6, "labelFontSize": 11, "labelFontStyle": "italic", "rowPadding": 1.6, "labelOffset": 2, "labelExpr": "['UAS-Srl/+ ETOH','UAS-Srl/+ RU','Tigs-2GS/+ ETOH','Tigs-2GS/+ RU','Tigs-2GS/UAS-Srl ETOH','Tigs-2GS/UAS-Srl RU'][datum.value-1]"}}}}
   ]}
 ], "spacing": 0, "bounds": "flush",
 "resolve": {"scale": {"x": "independent", "y": "independent", "xOffset": "independent", "fill": "independent", "stroke": "independent", "strokeDash": "independent", "size": "independent"}, "legend": {"fill": "independent", "stroke": "independent", "strokeDash": "independent", "size": "independent"}}}
]
}
